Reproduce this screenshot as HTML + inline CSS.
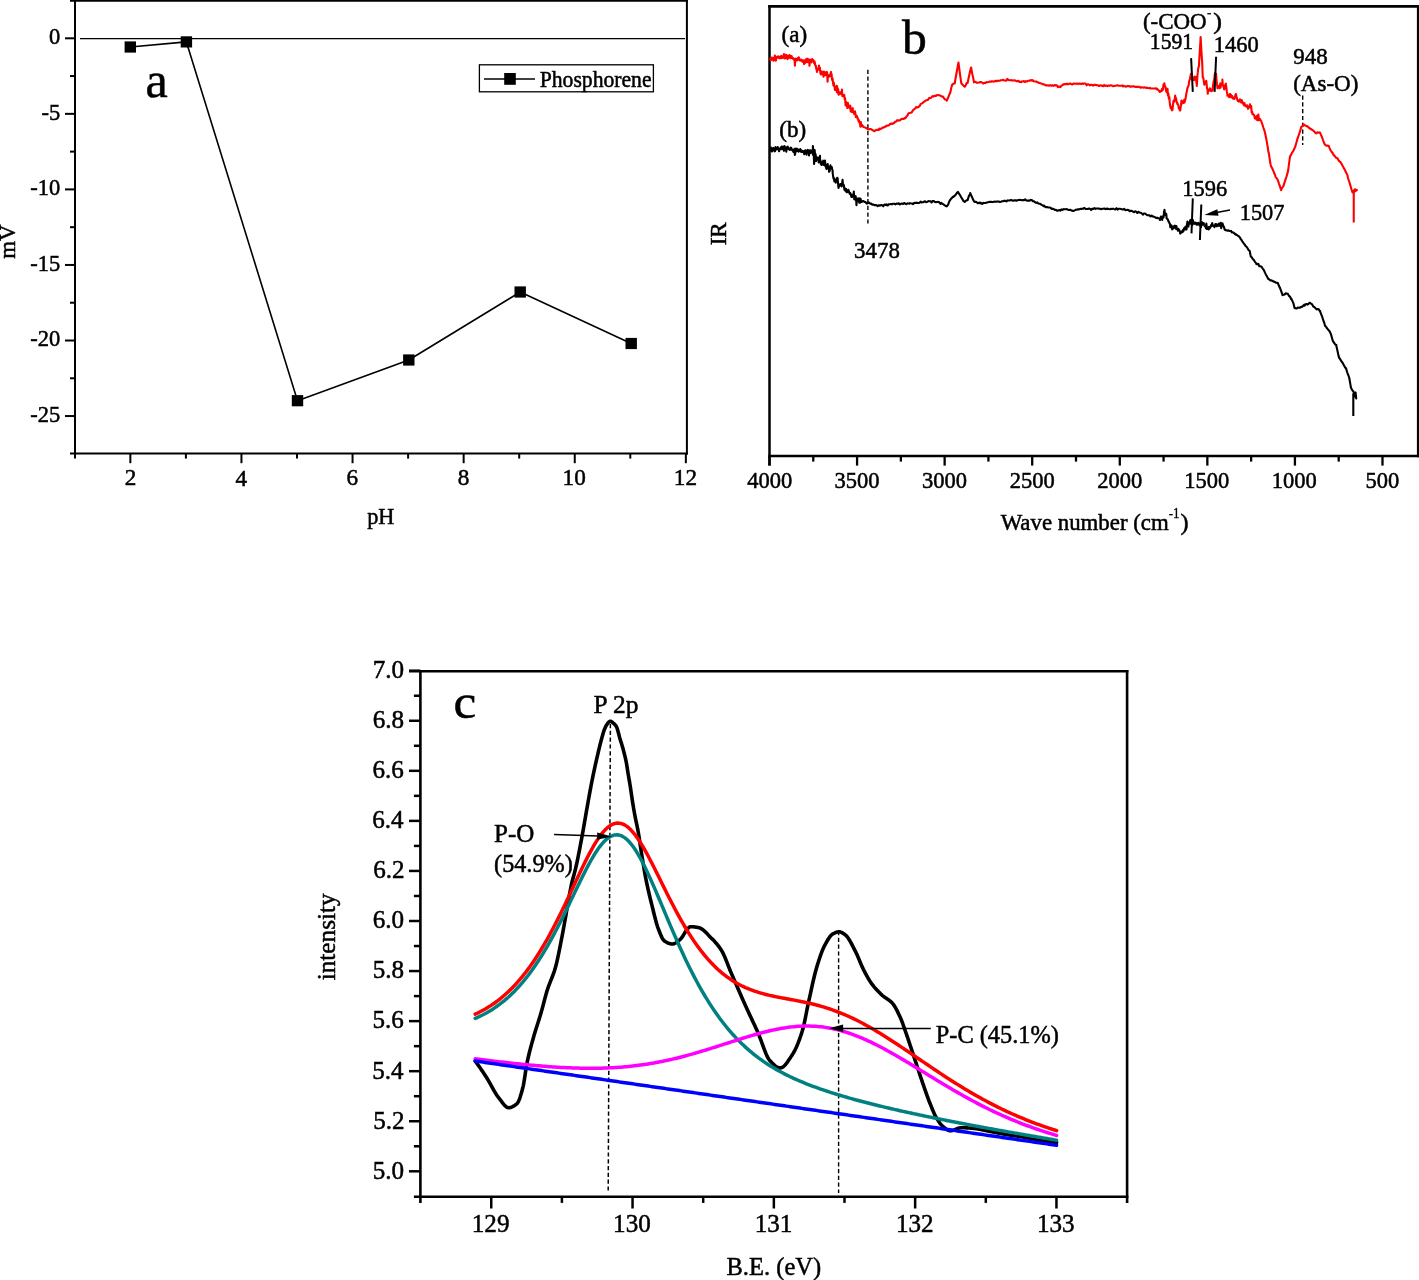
<!DOCTYPE html>
<html><head><meta charset="utf-8"><style>
html,body{margin:0;padding:0;background:#fff;}
svg{display:block;will-change:transform;}
text{font-family:"Liberation Serif", serif;fill:#000;}
</style></head><body>
<svg width="1419" height="1280" viewBox="0 0 1419 1280">
<rect width="1419" height="1280" fill="#fff"/>
<line x1="75.00" y1="0.00" x2="75.00" y2="458.60" stroke="#000" stroke-width="2" />
<line x1="70.00" y1="453.60" x2="687.90" y2="453.60" stroke="#000" stroke-width="2" />
<line x1="70.00" y1="0.70" x2="687.90" y2="0.70" stroke="#000" stroke-width="2" />
<line x1="686.90" y1="0.00" x2="686.90" y2="454.60" stroke="#000" stroke-width="2" />
<line x1="65.00" y1="38.30" x2="75.00" y2="38.30" stroke="#000" stroke-width="2" />
<text transform="translate(49.00,44.02) scale(0.9700,1)" font-size="23.20" stroke="#000" stroke-width="0.50">0</text>
<line x1="65.00" y1="113.85" x2="75.00" y2="113.85" stroke="#000" stroke-width="2" />
<text transform="translate(41.46,119.57) scale(0.9700,1)" font-size="23.20" stroke="#000" stroke-width="0.50">-5</text>
<line x1="65.00" y1="189.40" x2="75.00" y2="189.40" stroke="#000" stroke-width="2" />
<text transform="translate(30.21,195.12) scale(0.9700,1)" font-size="23.20" stroke="#000" stroke-width="0.50">-10</text>
<line x1="65.00" y1="264.95" x2="75.00" y2="264.95" stroke="#000" stroke-width="2" />
<text transform="translate(30.21,270.67) scale(0.9700,1)" font-size="23.20" stroke="#000" stroke-width="0.50">-15</text>
<line x1="65.00" y1="340.50" x2="75.00" y2="340.50" stroke="#000" stroke-width="2" />
<text transform="translate(30.21,346.22) scale(0.9700,1)" font-size="23.20" stroke="#000" stroke-width="0.50">-20</text>
<line x1="65.00" y1="416.05" x2="75.00" y2="416.05" stroke="#000" stroke-width="2" />
<text transform="translate(30.21,421.77) scale(0.9700,1)" font-size="23.20" stroke="#000" stroke-width="0.50">-25</text>
<line x1="70.00" y1="76.07" x2="75.00" y2="76.07" stroke="#000" stroke-width="2" />
<line x1="70.00" y1="151.62" x2="75.00" y2="151.62" stroke="#000" stroke-width="2" />
<line x1="70.00" y1="227.18" x2="75.00" y2="227.18" stroke="#000" stroke-width="2" />
<line x1="70.00" y1="302.73" x2="75.00" y2="302.73" stroke="#000" stroke-width="2" />
<line x1="70.00" y1="378.27" x2="75.00" y2="378.27" stroke="#000" stroke-width="2" />
<line x1="130.35" y1="453.60" x2="130.35" y2="463.20" stroke="#000" stroke-width="2" />
<text transform="translate(124.67,485.45) scale(1.0000,1)" font-size="23.20" stroke="#000" stroke-width="0.50">2</text>
<line x1="241.45" y1="453.60" x2="241.45" y2="463.20" stroke="#000" stroke-width="2" />
<text transform="translate(235.59,485.57) scale(1.0000,1)" font-size="23.20" stroke="#000" stroke-width="0.50">4</text>
<line x1="352.55" y1="453.60" x2="352.55" y2="463.20" stroke="#000" stroke-width="2" />
<text transform="translate(346.58,485.22) scale(1.0000,1)" font-size="23.20" stroke="#000" stroke-width="0.50">6</text>
<line x1="463.65" y1="453.60" x2="463.65" y2="463.20" stroke="#000" stroke-width="2" />
<text transform="translate(457.85,485.22) scale(1.0000,1)" font-size="23.20" stroke="#000" stroke-width="0.50">8</text>
<line x1="574.75" y1="453.60" x2="574.75" y2="463.20" stroke="#000" stroke-width="2" />
<text transform="translate(562.57,485.22) scale(1.0000,1)" font-size="23.20" stroke="#000" stroke-width="0.50">10</text>
<line x1="685.85" y1="453.60" x2="685.85" y2="463.20" stroke="#000" stroke-width="2" />
<text transform="translate(673.84,485.45) scale(1.0000,1)" font-size="23.20" stroke="#000" stroke-width="0.50">12</text>
<line x1="185.90" y1="453.60" x2="185.90" y2="458.60" stroke="#000" stroke-width="2" />
<line x1="297.00" y1="453.60" x2="297.00" y2="458.60" stroke="#000" stroke-width="2" />
<line x1="408.10" y1="453.60" x2="408.10" y2="458.60" stroke="#000" stroke-width="2" />
<line x1="519.20" y1="453.60" x2="519.20" y2="458.60" stroke="#000" stroke-width="2" />
<line x1="630.30" y1="453.60" x2="630.30" y2="458.60" stroke="#000" stroke-width="2" />
<text transform="translate(367.22,523.70) scale(0.9451,1)" font-size="23.58" stroke="#000" stroke-width="0.50">pH</text>
<text transform="translate(14.90,258.81) rotate(-90)" font-size="22.79" stroke="#000" stroke-width="0.50">mV</text>
<text transform="translate(145.40,97.15) scale(1.0089,1)" font-size="49.68" stroke="#000" stroke-width="0.50">a</text>
<line x1="80.00" y1="38.60" x2="685.00" y2="38.60" stroke="#000" stroke-width="1.4" />
<path d="M130.30,47.00 L186.40,41.90 L297.50,400.70 L408.80,360.00 L520.20,292.00 L631.20,343.50" fill="none" stroke="#000" stroke-width="1.6" stroke-linejoin="round" />
<rect x="124.60" y="41.40" width="11.4" height="11.2" fill="#000"/>
<rect x="180.70" y="36.30" width="11.4" height="11.2" fill="#000"/>
<rect x="291.80" y="395.10" width="11.4" height="11.2" fill="#000"/>
<rect x="403.10" y="354.40" width="11.4" height="11.2" fill="#000"/>
<rect x="514.50" y="286.40" width="11.4" height="11.2" fill="#000"/>
<rect x="625.50" y="337.90" width="11.4" height="11.2" fill="#000"/>
<rect x="479.4" y="64.8" width="174" height="27" fill="none" stroke="#000" stroke-width="1.3"/>
<line x1="484.00" y1="79.00" x2="535.00" y2="79.00" stroke="#000" stroke-width="1.4" />
<rect x="504.2" y="73.0" width="11.6" height="11.8" fill="#000"/>
<text transform="translate(539.70,86.50) scale(0.9561,1)" font-size="22.66" stroke="#000" stroke-width="0.50">Phosphorene</text>
<line x1="769.50" y1="5.10" x2="769.50" y2="465.60" stroke="#000" stroke-width="2.5" />
<line x1="768.25" y1="6.40" x2="1419.50" y2="6.40" stroke="#000" stroke-width="2.6" />
<line x1="1418.20" y1="5.10" x2="1418.20" y2="457.30" stroke="#000" stroke-width="2.6" />
<line x1="768.25" y1="456.00" x2="1419.50" y2="456.00" stroke="#000" stroke-width="2.5" />
<line x1="769.50" y1="456.00" x2="769.50" y2="465.60" stroke="#000" stroke-width="2.3" />
<text transform="translate(747.23,488.12) scale(1.0000,1)" font-size="22.50" stroke="#000" stroke-width="0.50">4000</text>
<line x1="857.07" y1="456.00" x2="857.07" y2="465.60" stroke="#000" stroke-width="2.3" />
<text transform="translate(834.46,488.12) scale(1.0000,1)" font-size="22.50" stroke="#000" stroke-width="0.50">3500</text>
<line x1="944.64" y1="456.00" x2="944.64" y2="465.60" stroke="#000" stroke-width="2.3" />
<text transform="translate(922.03,488.12) scale(1.0000,1)" font-size="22.50" stroke="#000" stroke-width="0.50">3000</text>
<line x1="1032.21" y1="456.00" x2="1032.21" y2="465.60" stroke="#000" stroke-width="2.3" />
<text transform="translate(1009.65,488.12) scale(1.0000,1)" font-size="22.50" stroke="#000" stroke-width="0.50">2500</text>
<line x1="1119.78" y1="456.00" x2="1119.78" y2="465.60" stroke="#000" stroke-width="2.3" />
<text transform="translate(1097.22,488.12) scale(1.0000,1)" font-size="22.50" stroke="#000" stroke-width="0.50">2000</text>
<line x1="1207.35" y1="456.00" x2="1207.35" y2="465.60" stroke="#000" stroke-width="2.3" />
<text transform="translate(1184.29,488.12) scale(1.0000,1)" font-size="22.50" stroke="#000" stroke-width="0.50">1500</text>
<line x1="1294.92" y1="456.00" x2="1294.92" y2="465.60" stroke="#000" stroke-width="2.3" />
<text transform="translate(1271.86,488.12) scale(1.0000,1)" font-size="22.50" stroke="#000" stroke-width="0.50">1000</text>
<line x1="1382.49" y1="456.00" x2="1382.49" y2="465.60" stroke="#000" stroke-width="2.3" />
<text transform="translate(1365.39,488.12) scale(1.0000,1)" font-size="22.50" stroke="#000" stroke-width="0.50">500</text>
<line x1="813.28" y1="456.00" x2="813.28" y2="461.60" stroke="#000" stroke-width="2.3" />
<line x1="900.86" y1="456.00" x2="900.86" y2="461.60" stroke="#000" stroke-width="2.3" />
<line x1="988.42" y1="456.00" x2="988.42" y2="461.60" stroke="#000" stroke-width="2.3" />
<line x1="1075.99" y1="456.00" x2="1075.99" y2="461.60" stroke="#000" stroke-width="2.3" />
<line x1="1163.57" y1="456.00" x2="1163.57" y2="461.60" stroke="#000" stroke-width="2.3" />
<line x1="1251.13" y1="456.00" x2="1251.13" y2="461.60" stroke="#000" stroke-width="2.3" />
<line x1="1338.70" y1="456.00" x2="1338.70" y2="461.60" stroke="#000" stroke-width="2.3" />
<text transform="translate(1000.65,529.81) scale(1.0129,1)" font-size="22.56" stroke="#000" stroke-width="0.50">Wave number (cm</text>
<text transform="translate(1168.69,517.65) scale(0.9199,1)" font-size="14.20" stroke="#000" stroke-width="0.30">-1</text>
<text transform="translate(1180.42,530.01) scale(1.0743,1)" font-size="22.56" stroke="#000" stroke-width="0.50">)</text>
<text transform="translate(725.65,245.36) rotate(-90)" font-size="23.11" stroke="#000" stroke-width="0.50">IR</text>
<text transform="translate(781.61,41.64) scale(1.0309,1)" font-size="22.44" stroke="#000" stroke-width="0.50">(a)</text>
<text transform="translate(779.31,136.88) scale(1.0253,1)" font-size="22.50" stroke="#000" stroke-width="0.50">(b)</text>
<text transform="translate(901.95,53.96) scale(1.0138,1)" font-size="49.00" stroke="#000" stroke-width="0.50">b</text>
<text transform="translate(854.11,258.22) scale(1.0028,1)" font-size="22.81" stroke="#000" stroke-width="0.50">3478</text>
<text transform="translate(1142.92,28.84) scale(1.0037,1)" font-size="22.89" stroke="#000" stroke-width="0.50">(-COO</text>
<text transform="translate(1213.27,28.94) scale(1.1653,1)" font-size="22.44" stroke="#000" stroke-width="0.50">)</text>
<rect x="1207.3" y="13.1" width="3.7" height="1.3" fill="#000"/>
<text transform="translate(1149.79,49.42) scale(0.9642,1)" font-size="22.54" stroke="#000" stroke-width="0.50">1591</text>
<text transform="translate(1213.82,52.13) scale(1.0131,1)" font-size="22.22" stroke="#000" stroke-width="0.50">1460</text>
<text transform="translate(1293.26,63.72) scale(0.9989,1)" font-size="22.96" stroke="#000" stroke-width="0.50">948</text>
<text transform="translate(1293.21,90.74) scale(1.0059,1)" font-size="22.89" stroke="#000" stroke-width="0.50">(As-O)</text>
<text transform="translate(1182.32,195.52) scale(0.9602,1)" font-size="23.43" stroke="#000" stroke-width="0.50">1596</text>
<text transform="translate(1239.73,219.62) scale(0.9628,1)" font-size="23.26" stroke="#000" stroke-width="0.50">1507</text>
<line x1="867.90" y1="69.80" x2="867.90" y2="224.50" stroke="#000" stroke-width="1.4" stroke-dasharray="4.2,2.6"/>
<line x1="1302.70" y1="95.50" x2="1302.70" y2="145.00" stroke="#000" stroke-width="1.4" stroke-dasharray="4.2,2.6"/>
<path d="M769.50,58.50 L769.95,58.75 L770.40,58.22 L770.85,60.19 L771.30,58.02 L771.75,57.52 L772.20,58.45 L772.65,59.58 L773.10,57.91 L773.55,60.77 L774.00,58.76 L774.45,58.62 L774.90,55.49 L775.35,57.43 L775.80,60.62 L776.25,58.85 L776.70,57.00 L777.15,57.78 L777.60,56.46 L778.05,56.99 L778.50,56.48 L778.95,57.91 L779.40,56.96 L779.85,58.33 L780.30,58.21 L780.75,57.88 L781.20,55.76 L781.65,57.53 L781.90,57.96 L782.10,58.06 L782.55,56.49 L783.00,57.35 L783.45,56.81 L783.90,54.16 L784.35,58.46 L784.80,56.69 L785.25,57.30 L785.70,58.04 L786.15,54.68 L786.60,56.96 L787.05,57.07 L787.50,59.13 L787.95,55.69 L788.40,56.77 L788.85,57.83 L789.30,55.13 L789.75,57.20 L790.20,56.45 L790.40,55.72 L790.65,58.28 L791.10,57.50 L791.55,56.06 L792.00,57.54 L792.45,58.32 L792.90,57.96 L793.35,59.07 L793.80,58.73 L794.25,59.72 L794.50,60.59 L794.70,61.79 L794.90,65.68 L795.15,61.40 L795.30,62.27 L795.60,58.49 L796.05,58.97 L796.50,59.25 L796.95,60.17 L797.40,60.33 L797.85,58.04 L798.30,58.46 L798.75,59.69 L798.80,57.31 L799.20,58.84 L799.65,59.34 L800.10,60.73 L800.55,60.40 L801.00,59.65 L801.45,59.79 L801.90,60.07 L802.35,61.84 L802.80,60.26 L803.25,60.54 L803.70,61.31 L804.15,64.07 L804.50,61.12 L804.60,60.30 L805.05,63.16 L805.50,60.90 L805.95,62.35 L806.40,58.74 L806.85,61.28 L807.30,61.90 L807.75,58.70 L808.20,62.25 L808.65,61.30 L809.10,61.83 L809.10,60.14 L809.50,65.81 L809.55,63.46 L809.90,59.47 L810.00,60.97 L810.45,60.20 L810.90,60.91 L811.35,62.55 L811.80,59.54 L812.25,59.11 L812.70,60.11 L812.90,60.44 L813.15,59.92 L813.60,60.75 L814.05,62.99 L814.50,63.59 L814.60,61.45 L814.95,64.04 L815.40,65.70 L815.85,65.55 L816.30,69.01 L816.75,68.82 L816.90,72.06 L817.20,70.59 L817.65,69.98 L818.10,68.51 L818.55,68.77 L819.00,65.50 L819.10,66.70 L819.45,69.95 L819.90,67.51 L820.35,73.27 L820.80,70.68 L820.80,74.44 L821.25,72.24 L821.70,71.86 L822.15,74.13 L822.60,71.84 L823.05,72.33 L823.50,76.73 L823.95,71.59 L824.20,74.49 L824.40,74.42 L824.85,72.67 L825.30,75.25 L825.75,72.26 L825.90,72.82 L826.20,72.01 L826.65,72.71 L827.10,72.18 L827.55,81.68 L828.00,74.77 L828.45,76.90 L828.90,75.92 L829.35,75.31 L829.80,76.31 L829.80,75.96 L830.25,75.16 L830.70,72.94 L831.00,71.95 L831.15,75.88 L831.60,74.04 L832.05,79.87 L832.50,78.52 L832.60,78.42 L832.95,81.91 L833.40,85.31 L833.85,82.82 L834.30,86.49 L834.75,87.65 L834.90,89.97 L835.20,89.90 L835.65,88.15 L836.10,87.69 L836.55,85.84 L836.90,92.24 L837.00,86.08 L837.45,88.45 L837.90,88.77 L838.30,90.18 L838.35,94.03 L838.80,94.71 L839.25,92.86 L839.70,92.57 L840.15,92.15 L840.60,92.25 L841.05,94.16 L841.50,92.96 L841.70,93.27 L841.95,89.46 L842.40,96.23 L842.85,96.11 L843.30,96.29 L843.75,95.49 L844.20,94.88 L844.65,99.00 L845.10,99.65 L845.10,97.99 L845.55,105.36 L846.00,101.91 L846.45,103.25 L846.90,104.65 L847.30,108.06 L847.35,106.69 L847.80,102.73 L848.25,106.06 L848.70,105.69 L849.15,106.43 L849.60,108.12 L849.60,107.53 L850.05,105.55 L850.50,106.69 L850.70,111.33 L850.95,108.73 L851.40,110.51 L851.85,112.06 L852.30,108.61 L852.75,108.18 L853.00,111.89 L853.20,111.99 L853.65,112.51 L854.10,113.89 L854.55,113.49 L854.70,112.83 L855.00,111.34 L855.45,113.92 L855.90,117.05 L856.35,116.46 L856.80,115.77 L856.90,116.51 L857.25,116.52 L857.50,118.51 L857.70,118.28 L858.15,119.09 L858.60,121.34 L859.05,120.51 L859.50,122.85 L859.95,123.46 L860.40,126.63 L860.85,122.14 L861.30,126.19 L861.40,124.87 L861.75,125.20 L862.20,125.08 L863.30,126.93 L864.40,127.16 L865.50,127.62 L866.60,128.38 L867.60,128.91 L867.70,129.38 L868.80,129.36 L869.90,129.04 L871.00,129.11 L872.10,129.79 L873.20,130.52 L873.80,130.74 L874.30,131.18 L875.40,130.52 L876.50,129.89 L877.60,129.68 L878.70,130.04 L879.50,128.51 L879.80,129.37 L880.90,128.79 L882.00,128.28 L883.10,127.25 L884.20,127.35 L885.30,126.71 L886.20,125.89 L886.40,126.27 L887.50,125.47 L888.60,125.56 L889.70,124.41 L890.80,123.51 L891.90,123.90 L891.90,123.50 L893.00,123.73 L894.10,122.97 L895.20,121.71 L896.30,121.39 L896.40,121.21 L897.40,120.06 L898.50,120.64 L899.60,120.26 L900.30,120.12 L900.70,119.47 L901.80,118.87 L902.00,118.75 L902.90,118.87 L904.00,118.86 L905.10,117.80 L905.40,118.16 L906.20,116.73 L907.30,115.68 L908.40,113.51 L909.50,113.07 L910.60,112.79 L911.70,112.59 L912.80,110.50 L913.30,109.83 L913.90,109.49 L915.00,108.66 L916.10,107.14 L917.20,107.37 L918.30,107.12 L919.40,106.14 L920.00,105.58 L920.50,104.15 L921.60,103.63 L922.70,103.08 L922.70,102.75 L923.80,101.98 L924.90,101.22 L926.00,100.35 L927.10,100.02 L928.20,99.66 L929.30,97.92 L930.40,98.05 L931.50,97.42 L932.50,96.11 L932.60,96.38 L933.70,96.38 L934.80,95.78 L935.90,95.89 L937.00,94.98 L938.10,94.97 L938.10,95.26 L939.20,95.18 L940.30,95.56 L941.40,96.27 L942.50,96.69 L943.00,96.60 L943.60,97.64 L944.70,99.20 L945.80,99.62 L946.80,100.64 L946.90,100.16 L948.00,98.06 L949.10,95.08 L950.00,93.07 L950.20,92.96 L951.30,87.75 L952.20,84.62 L952.40,84.65 L953.50,83.65 L954.60,83.12 L954.70,83.49 L955.70,77.47 L956.80,71.45 L957.90,65.32 L958.50,62.51 L959.00,66.71 L960.10,74.85 L961.20,82.56 L961.30,83.34 L962.30,84.33 L963.40,85.55 L964.50,86.37 L964.80,86.76 L965.60,85.70 L966.70,82.98 L967.60,82.89 L967.80,82.02 L968.90,76.77 L970.00,71.78 L970.90,67.96 L971.10,67.56 L972.20,73.62 L973.30,78.35 L974.00,82.32 L974.40,81.65 L975.50,81.89 L976.60,82.66 L977.70,82.70 L978.80,82.52 L979.90,82.14 L981.00,81.97 L982.10,82.62 L983.10,83.09 L983.20,83.56 L984.30,82.77 L985.40,82.96 L986.50,82.01 L987.60,82.17 L988.70,81.95 L989.80,81.49 L990.90,81.69 L992.00,81.14 L993.10,81.64 L994.20,81.45 L994.40,81.43 L995.30,80.90 L996.40,81.14 L997.50,80.88 L998.60,80.73 L999.70,80.68 L1000.80,80.33 L1001.90,80.22 L1003.00,79.82 L1004.10,80.47 L1005.20,80.52 L1006.30,80.69 L1007.40,78.84 L1008.50,80.03 L1009.60,80.25 L1010.70,80.25 L1011.20,79.99 L1011.80,80.51 L1012.90,80.46 L1014.00,80.22 L1015.10,80.49 L1016.20,81.20 L1017.30,81.29 L1018.40,80.77 L1019.50,81.93 L1020.60,81.89 L1021.10,82.20 L1021.70,81.61 L1022.80,81.50 L1023.90,81.11 L1025.00,82.07 L1026.10,81.12 L1027.20,81.51 L1028.30,80.71 L1029.40,80.81 L1030.50,80.12 L1031.60,80.37 L1032.30,80.70 L1032.70,80.17 L1033.80,81.29 L1034.90,81.48 L1036.00,81.48 L1037.10,82.05 L1038.20,82.48 L1039.30,83.02 L1040.40,83.28 L1041.50,83.61 L1042.60,84.18 L1043.70,84.38 L1044.80,84.71 L1045.90,85.50 L1046.40,85.23 L1047.00,85.22 L1048.10,85.63 L1049.20,85.39 L1050.30,85.25 L1051.40,85.75 L1052.50,85.30 L1053.60,85.86 L1054.70,85.13 L1055.80,85.43 L1056.20,85.23 L1056.90,85.37 L1058.00,87.06 L1059.10,86.50 L1060.20,87.20 L1060.40,87.09 L1061.30,85.91 L1062.40,85.14 L1063.30,84.32 L1063.50,84.58 L1064.60,83.99 L1065.70,84.22 L1066.80,83.69 L1067.90,84.37 L1069.00,83.82 L1070.10,83.57 L1071.20,84.07 L1072.30,84.39 L1073.40,83.57 L1074.50,83.67 L1075.60,83.74 L1076.70,83.59 L1077.80,84.02 L1078.90,83.63 L1080.00,83.63 L1081.10,83.99 L1082.20,83.56 L1083.30,83.88 L1083.40,83.46 L1084.40,83.52 L1085.50,83.48 L1086.60,85.33 L1087.70,84.22 L1088.80,84.53 L1089.90,85.37 L1091.00,84.80 L1092.10,84.91 L1093.20,85.61 L1094.30,84.87 L1095.40,84.86 L1096.50,85.17 L1097.60,85.22 L1098.70,85.98 L1099.00,86.05 L1099.80,85.51 L1100.90,85.38 L1102.00,85.69 L1103.10,86.22 L1104.20,84.95 L1105.30,85.96 L1106.40,85.48 L1107.50,86.11 L1108.60,85.48 L1109.70,85.71 L1110.80,85.35 L1111.90,85.51 L1113.00,86.22 L1114.10,86.05 L1115.20,85.68 L1116.30,85.54 L1117.40,85.23 L1118.50,85.68 L1119.60,85.79 L1120.70,85.77 L1121.80,85.77 L1122.50,85.46 L1122.90,86.48 L1124.00,85.89 L1125.10,86.37 L1126.20,86.62 L1127.30,86.10 L1128.40,85.99 L1129.50,86.27 L1130.60,86.85 L1131.70,86.23 L1132.80,86.51 L1133.90,86.29 L1135.00,86.86 L1136.10,86.73 L1137.20,86.91 L1138.10,86.85 L1138.30,86.71 L1139.40,86.78 L1140.50,87.78 L1141.60,87.18 L1142.70,87.55 L1143.80,87.62 L1144.90,87.35 L1146.00,87.92 L1147.10,87.63 L1148.20,87.99 L1149.30,88.22 L1150.00,87.78 L1150.40,88.44 L1151.50,88.51 L1152.60,88.46 L1153.70,88.43 L1154.80,88.49 L1155.90,88.36 L1157.00,89.37 L1157.00,88.53 L1158.10,89.98 L1159.20,90.85 L1159.80,91.97 L1160.30,91.67 L1160.75,91.08 L1161.20,90.49 L1161.65,91.06 L1162.10,88.74 L1162.55,90.32 L1162.70,90.02 L1163.00,88.93 L1163.45,84.67 L1163.90,84.69 L1164.35,83.35 L1164.40,83.97 L1164.80,85.42 L1165.25,87.05 L1165.70,87.33 L1165.80,89.58 L1166.15,91.03 L1166.60,92.02 L1167.05,92.46 L1167.50,88.85 L1167.95,95.37 L1168.30,95.27 L1168.40,93.67 L1168.85,98.76 L1169.30,96.91 L1169.70,101.93 L1169.75,102.66 L1170.20,105.51 L1170.65,108.04 L1171.10,106.89 L1171.55,109.36 L1172.00,110.37 L1172.45,109.98 L1172.50,109.98 L1172.90,105.47 L1173.35,101.92 L1173.60,100.68 L1173.80,100.42 L1174.25,101.69 L1174.70,99.91 L1175.15,95.63 L1175.60,97.92 L1176.00,98.16 L1176.05,98.28 L1176.50,100.96 L1176.95,102.61 L1177.40,104.22 L1177.40,103.02 L1177.85,104.63 L1178.30,105.08 L1178.75,108.11 L1179.20,108.56 L1179.65,109.92 L1180.10,109.14 L1180.20,110.57 L1180.55,108.06 L1181.00,104.87 L1181.45,100.66 L1181.60,103.92 L1181.90,102.58 L1182.35,102.22 L1182.80,101.45 L1183.25,102.08 L1183.70,102.89 L1184.15,99.83 L1184.50,102.29 L1184.60,102.39 L1185.05,100.26 L1185.50,98.93 L1185.95,96.17 L1186.40,93.18 L1186.60,92.17 L1186.85,91.60 L1187.30,88.59 L1187.75,87.22 L1188.20,86.26 L1188.65,85.39 L1189.10,81.67 L1189.40,80.56 L1189.55,80.10 L1190.00,79.11 L1190.45,75.85 L1190.80,75.62 L1190.90,73.70 L1191.35,78.64 L1191.80,76.79 L1192.25,78.87 L1192.70,77.66 L1192.90,78.54 L1193.15,78.76 L1193.60,79.33 L1194.05,80.16 L1194.50,76.53 L1194.95,78.27 L1195.40,77.22 L1195.70,76.84 L1195.85,77.13 L1196.30,81.96 L1196.75,84.30 L1196.80,85.89 L1197.20,79.00 L1197.65,73.34 L1197.80,72.38 L1198.10,69.30 L1198.55,67.13 L1199.00,65.90 L1199.20,60.77 L1199.45,57.40 L1199.90,49.33 L1200.35,42.79 L1200.60,37.13 L1200.80,40.22 L1201.25,48.26 L1201.70,55.74 L1202.00,59.90 L1202.15,61.93 L1202.60,73.38 L1202.70,77.08 L1203.05,77.38 L1203.50,78.91 L1203.95,82.19 L1204.40,84.80 L1204.50,84.15 L1204.85,82.72 L1205.30,82.01 L1205.75,83.00 L1206.20,80.82 L1206.30,81.17 L1206.65,84.49 L1207.10,88.71 L1207.55,89.79 L1207.70,93.75 L1208.00,91.80 L1208.45,91.22 L1208.90,89.58 L1209.35,90.47 L1209.80,88.38 L1209.80,90.09 L1210.25,88.83 L1210.70,89.70 L1211.15,91.28 L1211.60,89.96 L1211.90,90.97 L1212.05,90.65 L1212.50,90.56 L1212.95,86.42 L1213.40,82.75 L1213.85,80.77 L1214.30,79.27 L1214.70,74.79 L1214.75,74.65 L1215.20,72.77 L1215.65,74.97 L1216.10,74.90 L1216.10,73.84 L1216.55,80.34 L1217.00,84.45 L1217.45,87.73 L1217.50,88.32 L1217.90,85.48 L1218.35,87.42 L1218.80,86.23 L1219.25,86.34 L1219.70,88.27 L1220.15,84.74 L1220.30,83.38 L1220.60,87.37 L1221.05,83.70 L1221.50,83.75 L1221.95,83.18 L1222.40,83.09 L1222.40,79.50 L1222.85,85.57 L1223.30,85.77 L1223.75,87.61 L1224.20,89.47 L1224.50,88.42 L1224.65,86.32 L1225.10,85.75 L1225.55,84.09 L1225.90,83.65 L1226.00,84.93 L1226.45,88.62 L1226.90,91.94 L1227.35,93.66 L1227.40,95.67 L1227.80,95.30 L1228.25,95.12 L1228.70,95.33 L1229.15,97.28 L1229.60,94.85 L1230.05,93.89 L1230.50,95.37 L1230.90,97.06 L1230.95,94.80 L1231.40,97.09 L1231.85,96.99 L1232.30,96.19 L1232.75,98.55 L1233.20,97.65 L1233.65,98.09 L1234.10,98.34 L1234.40,98.98 L1234.55,98.06 L1235.00,97.02 L1235.45,94.77 L1235.80,94.36 L1235.90,94.06 L1236.35,96.29 L1236.80,97.49 L1237.25,99.53 L1237.70,101.04 L1237.90,100.00 L1238.15,100.69 L1238.60,101.49 L1239.05,100.70 L1239.50,100.35 L1239.95,101.42 L1240.00,99.39 L1240.40,100.47 L1240.85,100.38 L1241.30,102.64 L1241.75,99.99 L1242.20,101.60 L1242.65,102.17 L1243.10,103.70 L1243.55,104.10 L1244.00,105.26 L1244.45,103.03 L1244.90,105.58 L1245.35,105.09 L1245.80,105.20 L1246.25,106.74 L1246.70,105.87 L1247.15,105.28 L1247.50,107.17 L1247.60,106.08 L1248.05,108.83 L1248.50,107.07 L1248.95,106.68 L1249.40,107.48 L1249.85,105.53 L1250.00,104.22 L1250.30,106.10 L1250.75,107.73 L1251.20,106.13 L1251.65,112.50 L1251.90,112.52 L1252.10,111.48 L1252.55,114.24 L1253.00,113.86 L1253.45,114.64 L1253.90,114.77 L1254.35,115.59 L1254.80,118.31 L1255.25,116.84 L1255.70,118.63 L1256.15,116.79 L1256.60,119.71 L1257.05,115.84 L1257.50,117.35 L1257.50,120.15 L1257.95,118.14 L1258.40,114.61 L1258.85,120.32 L1259.30,119.39 L1259.75,118.66 L1260.20,119.69 L1261.25,121.17 L1261.30,121.37 L1262.40,124.48 L1263.50,128.03 L1264.60,131.11 L1265.00,132.67 L1265.70,135.95 L1266.80,141.92 L1267.90,148.00 L1268.10,150.17 L1269.00,154.30 L1270.10,161.61 L1270.60,164.75 L1271.20,166.60 L1272.30,168.52 L1273.40,171.22 L1274.50,173.85 L1275.00,174.71 L1275.60,176.87 L1276.70,178.28 L1277.80,180.02 L1278.10,180.82 L1278.90,183.35 L1280.00,186.57 L1281.10,190.24 L1281.25,189.47 L1282.20,187.64 L1283.30,186.36 L1284.40,182.82 L1285.00,181.23 L1285.50,179.37 L1286.60,176.28 L1287.70,172.37 L1288.10,170.90 L1288.80,165.48 L1289.90,157.47 L1290.00,156.32 L1291.00,154.89 L1292.10,152.53 L1293.20,151.08 L1294.30,148.74 L1294.40,148.70 L1295.40,146.27 L1296.50,142.21 L1297.50,138.60 L1297.60,138.42 L1298.70,135.25 L1299.80,132.21 L1300.90,128.40 L1301.25,126.98 L1302.00,126.49 L1303.10,125.21 L1303.75,124.43 L1304.20,125.06 L1305.30,125.41 L1306.40,126.21 L1307.50,126.29 L1308.60,127.53 L1309.70,128.55 L1310.00,128.33 L1310.80,128.88 L1311.90,129.82 L1313.00,130.33 L1314.10,131.43 L1315.00,132.47 L1315.20,132.64 L1316.30,133.43 L1317.40,132.37 L1318.50,132.59 L1319.60,132.42 L1320.00,132.54 L1320.70,134.21 L1321.80,136.66 L1322.90,139.74 L1324.00,142.76 L1325.00,144.71 L1325.10,144.96 L1326.20,145.60 L1327.30,145.45 L1328.40,146.19 L1328.75,145.93 L1329.50,147.90 L1330.60,150.18 L1331.70,152.02 L1332.80,153.27 L1333.75,155.22 L1333.90,155.19 L1335.00,156.28 L1336.10,157.81 L1337.20,158.05 L1338.30,159.87 L1339.40,161.38 L1340.00,161.67 L1340.50,162.18 L1341.60,163.85 L1342.70,166.06 L1343.80,168.12 L1344.90,169.84 L1345.00,170.15 L1346.00,172.51 L1347.10,174.33 L1348.20,178.80 L1348.75,180.21 L1349.30,181.88 L1350.40,185.52 L1351.50,189.48 L1352.50,192.36 L1352.60,192.14 L1353.70,190.64 L1354.80,189.41 L1355.00,189.27 L1355.90,189.70 L1356.90,190.00 L1353.75,192.00 L1353.75,222.50" fill="none" stroke="#ff0000" stroke-width="2.1" stroke-linejoin="round" />
<path d="M770.10,149.69 L770.55,150.39 L771.00,147.64 L771.45,150.40 L771.90,151.47 L772.35,150.46 L772.80,148.85 L773.25,147.84 L773.70,149.77 L774.15,150.22 L774.60,151.34 L775.05,151.07 L775.50,147.13 L775.95,149.44 L776.30,149.23 L776.40,149.41 L776.85,148.80 L777.30,149.17 L777.75,147.00 L778.20,149.32 L778.65,149.01 L779.10,151.22 L779.55,149.46 L780.00,148.22 L780.45,149.03 L780.90,147.29 L781.35,147.73 L781.80,146.46 L782.25,149.31 L782.70,148.42 L783.00,146.74 L783.15,147.76 L783.60,148.70 L784.05,150.83 L784.50,146.04 L784.95,147.19 L785.40,147.42 L785.85,148.12 L786.30,151.71 L786.75,147.36 L787.20,147.13 L787.65,146.60 L788.10,147.38 L788.55,149.22 L789.00,148.51 L789.45,149.12 L789.90,149.93 L790.35,149.02 L790.40,149.10 L790.80,147.66 L791.25,147.96 L791.70,149.26 L792.15,150.16 L792.60,150.14 L793.05,151.07 L793.50,152.02 L793.95,149.36 L794.40,152.65 L794.50,149.32 L794.85,154.93 L794.90,154.86 L795.30,153.12 L795.30,148.64 L795.75,150.23 L796.20,148.67 L796.60,151.09 L796.65,149.19 L797.10,151.00 L797.55,148.93 L798.00,150.09 L798.45,151.68 L798.90,150.02 L799.35,150.93 L799.80,150.56 L800.25,149.04 L800.70,151.52 L801.15,151.76 L801.60,150.50 L802.05,152.13 L802.50,151.03 L802.95,150.97 L803.40,152.00 L803.85,151.51 L804.30,154.31 L804.50,150.90 L804.75,150.67 L805.20,153.05 L805.65,150.29 L806.10,150.43 L806.55,154.62 L807.00,151.38 L807.45,152.07 L807.90,149.93 L808.35,151.21 L808.60,150.54 L808.80,150.89 L809.00,155.38 L809.25,152.05 L809.40,151.78 L809.70,151.68 L810.15,150.19 L810.60,152.95 L811.05,152.33 L811.50,152.08 L811.95,150.22 L812.40,150.63 L812.85,154.66 L812.90,146.04 L813.30,150.11 L813.70,153.05 L813.75,154.13 L814.10,164.05 L814.20,160.74 L814.50,157.44 L814.60,154.28 L814.65,150.10 L815.10,155.09 L815.55,154.24 L815.70,154.81 L816.00,161.14 L816.45,158.11 L816.90,157.48 L817.35,159.46 L817.80,157.78 L818.25,157.54 L818.70,162.46 L819.15,159.25 L819.60,157.61 L820.00,155.89 L820.05,159.64 L820.50,160.41 L820.80,163.84 L820.95,163.82 L821.40,164.93 L821.85,164.57 L822.30,162.01 L822.75,162.49 L823.20,160.68 L823.60,165.02 L823.65,163.21 L824.10,165.02 L824.55,162.83 L825.00,160.62 L825.45,166.38 L825.90,164.60 L826.35,168.96 L826.80,165.31 L827.00,166.37 L827.25,166.53 L827.70,163.94 L828.15,168.55 L828.60,166.72 L829.05,171.79 L829.50,171.29 L829.80,170.48 L829.95,168.34 L830.40,165.29 L830.85,167.54 L831.20,167.51 L831.30,166.97 L831.75,166.99 L832.20,169.44 L832.60,170.32 L832.65,172.78 L833.10,175.96 L833.55,178.54 L834.00,178.18 L834.30,181.15 L834.45,181.50 L834.90,179.52 L835.35,179.67 L835.80,182.69 L836.25,179.43 L836.70,180.06 L837.15,177.69 L837.20,178.36 L837.60,178.06 L838.05,183.21 L838.30,186.49 L838.50,187.87 L838.95,186.55 L839.40,185.83 L839.85,184.92 L840.30,183.98 L840.75,184.68 L841.20,185.88 L841.65,183.82 L841.70,186.40 L842.10,183.96 L842.55,179.80 L843.00,184.90 L843.45,184.41 L843.90,185.34 L844.35,189.59 L844.80,188.08 L845.00,188.93 L845.25,190.58 L845.70,191.16 L846.15,188.94 L846.60,192.12 L847.05,191.13 L847.50,190.99 L847.95,192.07 L848.40,189.70 L848.85,191.09 L849.30,192.54 L849.75,194.04 L850.20,193.00 L850.65,193.79 L851.10,195.87 L851.40,196.82 L851.55,195.96 L852.00,197.02 L852.45,194.83 L852.90,195.29 L853.35,196.54 L853.80,191.54 L854.25,199.10 L854.70,199.49 L855.15,197.02 L855.60,196.19 L856.05,198.69 L856.50,205.15 L856.95,198.71 L857.40,200.75 L857.85,198.56 L858.30,198.79 L858.40,198.57 L858.75,199.52 L859.20,202.66 L859.65,198.34 L860.10,202.70 L860.55,198.91 L861.00,200.24 L861.45,202.01 L861.90,201.88 L862.35,201.19 L863.45,201.03 L864.55,202.05 L865.65,202.05 L866.75,203.55 L867.60,203.04 L867.85,203.22 L868.95,202.35 L870.05,203.61 L871.15,203.66 L872.25,204.63 L873.35,204.55 L874.45,205.10 L875.55,205.01 L876.65,205.36 L877.75,206.19 L878.10,205.61 L878.85,205.23 L879.95,205.71 L881.05,205.07 L882.15,205.09 L883.25,206.30 L884.35,204.61 L885.45,204.94 L886.50,204.30 L886.55,204.94 L887.65,205.44 L888.75,204.25 L889.85,204.27 L890.95,204.03 L892.05,204.28 L893.15,203.69 L894.25,203.68 L895.35,204.34 L896.45,203.61 L897.55,203.69 L898.65,203.36 L899.75,204.47 L900.60,203.82 L900.85,203.86 L901.95,203.54 L903.05,204.02 L904.15,203.02 L905.25,203.61 L906.35,204.22 L907.45,203.39 L908.55,203.47 L909.65,203.62 L910.00,203.16 L910.75,203.33 L911.85,203.50 L912.95,204.10 L914.05,203.11 L915.15,202.78 L916.25,202.87 L917.35,202.68 L918.45,202.99 L919.55,202.66 L920.00,202.33 L920.65,201.59 L921.75,202.42 L922.85,202.31 L923.95,201.68 L925.05,201.23 L926.15,202.25 L927.25,201.87 L928.35,201.15 L929.45,201.20 L930.55,201.28 L931.65,202.46 L932.50,200.99 L932.75,201.03 L933.85,201.15 L934.95,202.05 L936.05,202.14 L937.15,202.04 L938.25,201.91 L939.35,202.34 L940.45,203.91 L941.55,202.87 L941.60,203.37 L942.65,203.92 L943.75,204.63 L944.85,205.48 L945.95,206.18 L946.80,206.34 L947.05,206.02 L948.15,204.70 L949.25,201.52 L950.35,199.62 L950.80,199.22 L951.45,198.36 L952.55,197.34 L953.60,196.40 L953.65,196.90 L954.75,195.74 L955.85,194.54 L956.95,192.83 L957.80,192.11 L958.05,191.88 L959.15,193.97 L960.25,195.45 L961.35,197.43 L962.45,199.33 L963.55,201.16 L964.10,201.40 L964.65,201.86 L965.75,200.90 L966.85,200.29 L967.60,200.25 L967.95,198.88 L969.05,195.63 L970.15,194.19 L970.20,192.94 L971.25,195.56 L972.35,197.83 L973.45,200.44 L974.00,201.27 L974.55,201.84 L975.65,201.81 L976.75,202.18 L977.85,203.42 L978.95,202.86 L980.05,202.55 L980.30,203.40 L981.15,202.93 L982.25,203.87 L983.35,202.91 L984.45,202.96 L985.55,202.97 L986.65,202.62 L987.75,202.35 L988.85,201.94 L989.95,201.86 L991.05,201.89 L992.15,202.00 L993.25,201.88 L994.35,201.71 L994.40,201.65 L995.45,201.80 L996.55,201.59 L997.65,201.53 L998.75,201.44 L999.85,201.93 L1000.95,201.67 L1002.05,201.23 L1003.15,201.12 L1004.25,200.84 L1005.35,200.69 L1006.45,201.41 L1007.55,200.41 L1008.65,200.48 L1009.75,200.54 L1010.85,200.02 L1011.95,200.31 L1013.05,200.73 L1014.15,200.38 L1015.25,200.20 L1015.40,200.18 L1016.35,200.77 L1017.45,200.29 L1018.55,199.95 L1019.65,199.87 L1020.75,200.03 L1021.85,200.27 L1022.95,200.10 L1024.05,200.20 L1025.15,199.39 L1026.25,200.36 L1027.35,200.70 L1028.45,200.40 L1029.55,200.73 L1030.65,199.75 L1030.90,200.08 L1031.75,200.10 L1032.85,201.12 L1033.95,201.26 L1035.05,202.22 L1036.15,202.85 L1037.25,202.34 L1038.35,203.55 L1039.45,203.76 L1040.55,204.06 L1041.65,204.81 L1042.75,205.44 L1043.60,206.21 L1043.85,205.52 L1044.95,206.61 L1046.05,207.22 L1047.15,207.11 L1048.25,207.42 L1049.35,207.57 L1050.45,207.55 L1051.55,208.98 L1052.65,208.65 L1053.75,209.08 L1054.85,209.95 L1055.95,209.72 L1057.05,210.74 L1058.15,210.61 L1059.25,210.06 L1060.35,210.44 L1060.40,210.69 L1061.45,209.28 L1062.55,209.98 L1063.65,209.16 L1064.70,209.27 L1064.75,209.22 L1065.85,209.25 L1066.95,209.17 L1068.05,209.73 L1069.15,210.05 L1070.25,209.75 L1071.35,210.43 L1072.45,210.80 L1072.50,210.66 L1073.55,210.86 L1074.65,210.53 L1075.75,209.70 L1076.85,209.76 L1077.95,209.25 L1079.05,209.45 L1080.15,208.80 L1081.25,209.11 L1082.35,208.73 L1083.40,208.69 L1083.45,208.36 L1084.55,207.98 L1085.65,208.96 L1086.75,209.06 L1087.85,208.88 L1088.95,208.61 L1090.05,208.70 L1091.15,210.03 L1092.25,208.63 L1093.35,208.97 L1094.45,208.12 L1095.55,208.84 L1096.65,208.52 L1097.75,208.57 L1098.85,208.63 L1099.95,208.75 L1101.05,209.16 L1102.15,208.81 L1103.25,208.71 L1104.35,208.50 L1105.45,209.08 L1106.55,208.62 L1106.90,208.89 L1107.65,208.67 L1108.75,209.04 L1109.85,209.20 L1110.95,208.83 L1112.05,209.01 L1113.15,208.62 L1114.25,209.19 L1115.35,209.41 L1116.45,208.19 L1117.55,209.60 L1118.65,208.69 L1119.75,208.81 L1120.85,209.00 L1121.95,209.33 L1122.50,209.51 L1123.05,209.56 L1124.15,208.76 L1125.25,210.14 L1126.35,209.95 L1127.45,209.88 L1128.55,210.06 L1129.65,211.23 L1130.75,210.76 L1131.85,210.89 L1132.95,211.55 L1134.05,212.21 L1135.15,211.20 L1136.25,211.62 L1137.35,213.00 L1138.10,212.26 L1138.45,211.74 L1139.55,212.56 L1140.65,212.74 L1141.75,213.33 L1142.85,214.70 L1143.95,213.55 L1145.05,213.55 L1146.15,214.44 L1147.25,215.18 L1148.35,215.18 L1149.45,215.38 L1150.55,216.36 L1151.65,215.66 L1152.75,216.57 L1153.75,216.43 L1153.85,216.66 L1154.95,217.13 L1156.05,218.01 L1157.15,217.73 L1158.25,218.31 L1159.35,218.45 L1160.00,220.00 L1160.45,218.68 L1160.90,216.48 L1161.35,217.95 L1161.80,218.61 L1162.25,219.95 L1162.30,216.50 L1162.70,218.14 L1163.15,216.47 L1163.60,217.20 L1164.05,211.26 L1164.40,212.59 L1164.50,209.79 L1164.95,213.93 L1165.40,215.01 L1165.85,213.50 L1166.30,214.12 L1166.60,218.37 L1166.75,218.35 L1167.20,218.81 L1167.65,219.14 L1168.10,220.24 L1168.55,221.80 L1169.00,221.67 L1169.40,223.20 L1169.45,223.02 L1169.90,223.84 L1170.35,227.30 L1170.80,226.37 L1171.25,225.32 L1171.70,226.28 L1172.00,226.29 L1172.15,229.41 L1172.60,228.17 L1173.05,226.89 L1173.50,228.40 L1173.95,226.33 L1174.40,226.93 L1174.85,225.65 L1175.30,225.90 L1175.75,228.63 L1176.20,228.66 L1176.40,226.08 L1176.65,229.16 L1177.10,229.32 L1177.55,228.63 L1178.00,230.70 L1178.45,228.89 L1178.90,229.86 L1179.35,230.18 L1179.80,231.06 L1180.25,233.60 L1180.70,231.94 L1180.80,232.25 L1181.15,231.98 L1181.60,232.53 L1182.05,231.39 L1182.50,232.00 L1182.95,229.82 L1183.40,231.40 L1183.85,228.83 L1184.10,229.03 L1184.30,227.81 L1184.75,228.46 L1185.20,229.43 L1185.65,226.47 L1186.10,226.52 L1186.55,229.52 L1187.00,224.70 L1187.45,221.46 L1187.90,223.12 L1188.35,224.05 L1188.40,226.59 L1188.80,223.04 L1189.25,222.78 L1189.70,223.56 L1190.15,220.37 L1190.60,219.98 L1190.60,223.82 L1191.05,221.71 L1191.50,222.55 L1191.95,221.83 L1192.40,224.93 L1192.85,219.96 L1193.30,223.56 L1193.75,222.92 L1194.20,222.58 L1194.65,223.86 L1195.00,222.54 L1195.10,223.16 L1195.55,222.73 L1196.00,222.75 L1196.45,224.63 L1196.90,223.58 L1197.35,224.60 L1197.80,223.15 L1198.25,224.47 L1198.70,222.80 L1199.15,224.12 L1199.40,224.16 L1199.60,225.19 L1200.05,224.67 L1200.50,224.20 L1200.95,227.29 L1201.40,224.34 L1201.85,221.92 L1202.30,224.68 L1202.75,223.73 L1203.20,223.39 L1203.65,223.90 L1203.70,223.14 L1204.10,224.48 L1204.55,225.80 L1205.00,226.14 L1205.45,225.51 L1205.90,228.27 L1206.35,223.63 L1206.80,227.56 L1207.00,229.06 L1207.25,227.45 L1207.70,227.40 L1208.15,228.11 L1208.60,229.51 L1209.05,226.77 L1209.50,228.41 L1209.95,227.97 L1210.40,226.88 L1210.85,226.30 L1211.30,224.84 L1211.40,226.31 L1211.75,225.81 L1212.20,223.14 L1212.65,225.24 L1213.10,225.74 L1213.55,225.57 L1214.00,226.07 L1214.45,227.18 L1214.90,226.11 L1215.35,224.10 L1215.80,224.78 L1216.25,224.17 L1216.70,224.96 L1216.90,226.31 L1217.15,226.05 L1217.60,224.87 L1218.05,225.55 L1218.50,224.34 L1218.95,223.50 L1219.40,225.84 L1219.85,223.69 L1220.30,225.78 L1220.75,222.85 L1221.20,228.09 L1221.65,225.14 L1222.10,223.45 L1222.30,223.50 L1222.55,223.44 L1223.00,224.93 L1223.45,226.51 L1223.90,226.76 L1224.35,228.64 L1224.80,229.73 L1225.25,229.59 L1225.60,230.28 L1226.35,230.30 L1227.45,230.62 L1228.55,230.39 L1229.65,231.04 L1230.75,231.18 L1231.10,230.93 L1231.85,232.39 L1232.95,232.28 L1234.05,233.14 L1235.15,234.31 L1235.50,233.90 L1236.25,234.74 L1237.35,235.23 L1238.45,236.12 L1239.55,237.08 L1239.80,237.38 L1240.65,238.88 L1241.75,240.43 L1242.85,242.19 L1243.95,243.65 L1245.05,244.97 L1245.30,245.82 L1246.15,246.38 L1247.25,247.69 L1248.35,249.68 L1249.45,250.81 L1249.70,250.95 L1250.55,255.36 L1250.80,256.65 L1251.65,257.09 L1252.75,258.92 L1253.85,260.04 L1254.95,261.88 L1256.05,263.09 L1256.20,263.89 L1257.15,264.21 L1258.25,263.78 L1259.35,266.27 L1260.45,266.32 L1261.55,266.71 L1261.70,266.95 L1262.65,268.59 L1263.75,269.93 L1264.85,272.41 L1265.95,274.66 L1267.05,276.60 L1268.15,278.86 L1268.30,278.40 L1269.25,279.42 L1270.35,280.38 L1271.45,280.42 L1272.55,281.03 L1273.65,281.66 L1274.75,281.83 L1275.85,282.61 L1276.95,282.76 L1278.05,283.23 L1278.10,283.85 L1279.15,286.29 L1280.25,288.57 L1281.35,291.55 L1282.45,294.56 L1282.50,295.15 L1283.55,294.73 L1284.65,294.38 L1285.75,293.33 L1286.85,293.57 L1286.90,293.73 L1287.95,293.88 L1289.05,295.91 L1290.15,296.84 L1291.20,299.26 L1291.25,298.55 L1292.35,300.86 L1293.45,303.37 L1294.55,308.07 L1295.20,307.92 L1295.65,308.39 L1296.75,308.49 L1297.85,307.52 L1298.95,307.77 L1299.90,307.48 L1300.05,307.64 L1301.15,306.88 L1302.25,306.67 L1303.35,305.56 L1304.45,304.68 L1304.60,305.81 L1305.55,304.31 L1306.65,304.06 L1307.75,304.61 L1308.85,303.47 L1309.95,302.73 L1310.50,303.40 L1311.05,303.62 L1312.15,304.40 L1313.25,306.45 L1314.35,307.00 L1315.20,307.92 L1315.45,308.10 L1316.55,309.41 L1317.65,309.01 L1318.75,309.27 L1319.85,311.18 L1319.90,310.70 L1320.95,313.78 L1322.05,316.32 L1323.15,319.98 L1324.25,322.84 L1325.10,325.91 L1325.35,325.95 L1326.45,327.50 L1327.55,328.94 L1328.65,330.26 L1329.75,331.46 L1330.40,332.96 L1330.85,333.90 L1331.95,337.72 L1332.80,340.89 L1333.05,341.10 L1334.15,342.84 L1335.25,344.51 L1336.30,344.90 L1336.35,345.86 L1337.45,350.70 L1338.55,355.85 L1339.20,357.93 L1339.65,358.43 L1340.75,360.13 L1341.85,362.05 L1342.10,362.08 L1342.95,363.42 L1344.05,365.59 L1345.15,367.62 L1346.20,368.38 L1346.25,369.20 L1347.35,372.81 L1348.45,375.49 L1349.20,377.72 L1349.55,379.50 L1350.65,385.89 L1350.90,387.54 L1351.75,389.34 L1352.85,391.01 L1353.30,391.16 L1353.95,392.87 L1355.05,396.44 L1356.15,397.74 L1356.20,398.40 L1355.60,392.50 L1353.30,394.00 L1353.30,416.00" fill="none" stroke="#000" stroke-width="2.1" stroke-linejoin="round" />
<line x1="1191.10" y1="58.10" x2="1192.80" y2="91.90" stroke="#000" stroke-width="2.0" />
<line x1="1216.10" y1="56.70" x2="1214.60" y2="91.90" stroke="#000" stroke-width="2.0" />
<line x1="1192.80" y1="198.40" x2="1191.50" y2="233.40" stroke="#000" stroke-width="2.0" />
<line x1="1201.30" y1="204.50" x2="1199.90" y2="240.00" stroke="#000" stroke-width="2.0" />
<line x1="1230.00" y1="209.90" x2="1214.00" y2="213.10" stroke="#000" stroke-width="1.5" />
<path d="M1204.3,215 L1217.3,209.3 L1218.5,215.8 Z" fill="#000"/>
<line x1="420.40" y1="669.90" x2="420.40" y2="1203.00" stroke="#000" stroke-width="2.6" />
<line x1="409.00" y1="671.20" x2="1128.40" y2="671.20" stroke="#000" stroke-width="2.6" />
<line x1="1127.10" y1="669.90" x2="1127.10" y2="1203.00" stroke="#000" stroke-width="2.6" />
<line x1="413.90" y1="1196.80" x2="1128.40" y2="1196.80" stroke="#000" stroke-width="2.6" />
<line x1="409.00" y1="1171.30" x2="420.40" y2="1171.30" stroke="#000" stroke-width="2.5" />
<text transform="translate(372.78,1178.67) scale(1.0000,1)" font-size="25.10" stroke="#000" stroke-width="0.50">5.0</text>
<line x1="409.00" y1="1121.24" x2="420.40" y2="1121.24" stroke="#000" stroke-width="2.5" />
<text transform="translate(373.16,1128.61) scale(1.0000,1)" font-size="25.10" stroke="#000" stroke-width="0.50">5.2</text>
<line x1="409.00" y1="1071.18" x2="420.40" y2="1071.18" stroke="#000" stroke-width="2.5" />
<text transform="translate(372.15,1078.55) scale(1.0000,1)" font-size="25.10" stroke="#000" stroke-width="0.50">5.4</text>
<line x1="409.00" y1="1021.12" x2="420.40" y2="1021.12" stroke="#000" stroke-width="2.5" />
<text transform="translate(372.53,1028.49) scale(1.0000,1)" font-size="25.10" stroke="#000" stroke-width="0.50">5.6</text>
<line x1="409.00" y1="971.06" x2="420.40" y2="971.06" stroke="#000" stroke-width="2.5" />
<text transform="translate(372.78,978.43) scale(1.0000,1)" font-size="25.10" stroke="#000" stroke-width="0.50">5.8</text>
<line x1="409.00" y1="921.00" x2="420.40" y2="921.00" stroke="#000" stroke-width="2.5" />
<text transform="translate(372.78,928.37) scale(1.0000,1)" font-size="25.10" stroke="#000" stroke-width="0.50">6.0</text>
<line x1="409.00" y1="870.94" x2="420.40" y2="870.94" stroke="#000" stroke-width="2.5" />
<text transform="translate(373.16,878.31) scale(1.0000,1)" font-size="25.10" stroke="#000" stroke-width="0.50">6.2</text>
<line x1="409.00" y1="820.88" x2="420.40" y2="820.88" stroke="#000" stroke-width="2.5" />
<text transform="translate(372.15,828.25) scale(1.0000,1)" font-size="25.10" stroke="#000" stroke-width="0.50">6.4</text>
<line x1="409.00" y1="770.82" x2="420.40" y2="770.82" stroke="#000" stroke-width="2.5" />
<text transform="translate(372.53,778.19) scale(1.0000,1)" font-size="25.10" stroke="#000" stroke-width="0.50">6.6</text>
<line x1="409.00" y1="720.76" x2="420.40" y2="720.76" stroke="#000" stroke-width="2.5" />
<text transform="translate(372.78,728.13) scale(1.0000,1)" font-size="25.10" stroke="#000" stroke-width="0.50">6.8</text>
<line x1="409.00" y1="670.70" x2="420.40" y2="670.70" stroke="#000" stroke-width="2.5" />
<text transform="translate(372.78,678.07) scale(1.0000,1)" font-size="25.10" stroke="#000" stroke-width="0.50">7.0</text>
<line x1="413.90" y1="1146.27" x2="420.40" y2="1146.27" stroke="#000" stroke-width="2.5" />
<line x1="413.90" y1="1096.21" x2="420.40" y2="1096.21" stroke="#000" stroke-width="2.5" />
<line x1="413.90" y1="1046.15" x2="420.40" y2="1046.15" stroke="#000" stroke-width="2.5" />
<line x1="413.90" y1="996.09" x2="420.40" y2="996.09" stroke="#000" stroke-width="2.5" />
<line x1="413.90" y1="946.03" x2="420.40" y2="946.03" stroke="#000" stroke-width="2.5" />
<line x1="413.90" y1="895.97" x2="420.40" y2="895.97" stroke="#000" stroke-width="2.5" />
<line x1="413.90" y1="845.91" x2="420.40" y2="845.91" stroke="#000" stroke-width="2.5" />
<line x1="413.90" y1="795.85" x2="420.40" y2="795.85" stroke="#000" stroke-width="2.5" />
<line x1="413.90" y1="745.79" x2="420.40" y2="745.79" stroke="#000" stroke-width="2.5" />
<line x1="413.90" y1="695.73" x2="420.40" y2="695.73" stroke="#000" stroke-width="2.5" />
<line x1="491.25" y1="1196.80" x2="491.25" y2="1208.50" stroke="#000" stroke-width="2.5" />
<text transform="translate(471.80,1231.70) scale(1.0000,1)" font-size="25.10" stroke="#000" stroke-width="0.50">129</text>
<line x1="632.55" y1="1196.80" x2="632.55" y2="1208.50" stroke="#000" stroke-width="2.5" />
<text transform="translate(613.10,1231.70) scale(1.0000,1)" font-size="25.10" stroke="#000" stroke-width="0.50">130</text>
<line x1="773.85" y1="1196.80" x2="773.85" y2="1208.50" stroke="#000" stroke-width="2.5" />
<text transform="translate(754.65,1231.70) scale(1.0000,1)" font-size="25.10" stroke="#000" stroke-width="0.50">131</text>
<line x1="915.15" y1="1196.80" x2="915.15" y2="1208.50" stroke="#000" stroke-width="2.5" />
<text transform="translate(895.89,1231.70) scale(1.0000,1)" font-size="25.10" stroke="#000" stroke-width="0.50">132</text>
<line x1="1056.45" y1="1196.80" x2="1056.45" y2="1208.50" stroke="#000" stroke-width="2.5" />
<text transform="translate(1037.00,1231.70) scale(1.0000,1)" font-size="25.10" stroke="#000" stroke-width="0.50">133</text>
<line x1="561.90" y1="1196.80" x2="561.90" y2="1202.90" stroke="#000" stroke-width="2.5" />
<line x1="703.20" y1="1196.80" x2="703.20" y2="1202.90" stroke="#000" stroke-width="2.5" />
<line x1="844.50" y1="1196.80" x2="844.50" y2="1202.90" stroke="#000" stroke-width="2.5" />
<line x1="985.80" y1="1196.80" x2="985.80" y2="1202.90" stroke="#000" stroke-width="2.5" />
<text transform="translate(726.51,1274.80) scale(0.9773,1)" font-size="25.11" stroke="#000" stroke-width="0.50">B.E. (eV)</text>
<text transform="translate(334.90,980.36) rotate(-90)" font-size="25.26" stroke="#000" stroke-width="0.50">intensity</text>
<text transform="translate(453.50,717.87) scale(1.0639,1)" font-size="48.13" stroke="#000" stroke-width="0.50">c</text>
<text transform="translate(593.59,713.12) scale(1.0004,1)" font-size="25.40" stroke="#000" stroke-width="0.50">P 2p</text>
<text transform="translate(494.00,841.59) scale(0.9651,1)" font-size="25.97" stroke="#000" stroke-width="0.50">P-O</text>
<text transform="translate(494.06,872.22) scale(0.9739,1)" font-size="24.89" stroke="#000" stroke-width="0.50">(54.9%)</text>
<text transform="translate(935.77,1043.33) scale(0.9901,1)" font-size="24.61" stroke="#000" stroke-width="0.50">P-C (45.1%)</text>
<line x1="610.40" y1="724.00" x2="608.20" y2="1192.00" stroke="#000" stroke-width="1.5" stroke-dasharray="4.2,2.6"/>
<line x1="838.60" y1="931.00" x2="838.60" y2="1193.00" stroke="#000" stroke-width="1.4" stroke-dasharray="4.2,2.6"/>
<path d="M475.20,1061.00 L475.68,1061.66 L476.17,1062.32 L476.65,1062.99 L477.14,1063.66 L477.62,1064.34 L478.11,1065.02 L478.59,1065.71 L479.08,1066.40 L479.56,1067.09 L480.05,1067.79 L480.53,1068.49 L481.02,1069.20 L481.50,1069.91 L481.99,1070.62 L482.47,1071.34 L482.96,1072.06 L483.44,1072.79 L483.93,1073.52 L484.41,1074.25 L484.90,1074.99 L485.38,1075.73 L485.87,1076.48 L486.35,1077.23 L486.40,1077.30 L486.84,1077.99 L487.32,1078.77 L487.81,1079.58 L488.29,1080.40 L488.78,1081.24 L489.26,1082.09 L489.75,1082.95 L490.23,1083.82 L490.72,1084.70 L491.20,1085.58 L491.69,1086.46 L492.17,1087.33 L492.66,1088.21 L493.14,1089.07 L493.63,1089.93 L494.11,1090.77 L494.60,1091.61 L495.08,1092.42 L495.57,1093.21 L496.05,1093.99 L496.54,1094.74 L497.02,1095.46 L497.51,1096.15 L497.99,1096.82 L498.48,1097.44 L498.60,1097.60 L498.96,1098.05 L499.45,1098.68 L499.93,1099.32 L500.42,1099.98 L500.90,1100.63 L501.38,1101.29 L501.87,1101.94 L502.35,1102.59 L502.84,1103.21 L503.32,1103.82 L503.81,1104.40 L504.29,1104.95 L504.78,1105.47 L505.26,1105.94 L505.75,1106.37 L506.23,1106.75 L506.72,1107.07 L507.20,1107.33 L507.69,1107.53 L508.17,1107.65 L508.66,1107.70 L508.70,1107.70 L509.14,1107.69 L509.63,1107.64 L510.11,1107.56 L510.60,1107.45 L511.08,1107.30 L511.57,1107.13 L512.05,1106.94 L512.54,1106.71 L513.02,1106.46 L513.51,1106.19 L513.99,1105.89 L514.48,1105.57 L514.96,1105.23 L515.45,1104.88 L515.93,1104.50 L516.42,1104.11 L516.90,1103.70 L516.90,1103.70 L517.39,1103.18 L517.87,1102.47 L518.36,1101.59 L518.84,1100.55 L519.33,1099.35 L519.81,1098.03 L520.30,1096.58 L520.78,1095.03 L521.27,1093.40 L521.75,1091.68 L522.24,1089.91 L522.72,1088.08 L522.90,1087.40 L523.21,1086.12 L523.69,1083.66 L524.18,1080.80 L524.66,1077.67 L525.15,1074.40 L525.63,1071.12 L526.11,1067.98 L526.60,1065.09 L527.00,1063.00 L527.08,1062.59 L527.57,1060.31 L528.05,1058.13 L528.54,1056.02 L529.02,1054.00 L529.51,1052.03 L529.99,1050.13 L530.48,1048.27 L530.96,1046.45 L531.45,1044.66 L531.93,1042.90 L532.42,1041.15 L532.90,1039.41 L533.10,1038.70 L533.39,1037.67 L533.87,1035.98 L534.36,1034.32 L534.84,1032.71 L535.33,1031.12 L535.81,1029.56 L536.30,1028.03 L536.78,1026.50 L537.27,1024.98 L537.75,1023.47 L538.24,1021.95 L538.72,1020.43 L539.21,1018.89 L539.69,1017.33 L540.18,1015.75 L540.66,1014.13 L541.15,1012.48 L541.20,1012.30 L541.63,1010.78 L542.12,1009.02 L542.60,1007.22 L543.09,1005.39 L543.57,1003.53 L544.06,1001.67 L544.54,999.82 L545.03,997.98 L545.51,996.18 L546.00,994.42 L546.48,992.71 L546.97,991.08 L547.30,990.00 L547.45,989.53 L547.94,988.06 L548.42,986.66 L548.91,985.33 L549.39,984.05 L549.88,982.81 L550.36,981.60 L550.85,980.39 L551.33,979.20 L551.81,977.99 L552.30,976.76 L552.78,975.50 L553.27,974.19 L553.75,972.82 L554.24,971.39 L554.72,969.87 L555.21,968.26 L555.40,967.60 L555.69,966.54 L556.18,964.68 L556.66,962.70 L557.15,960.61 L557.63,958.43 L558.12,956.16 L558.60,953.82 L559.09,951.43 L559.57,949.00 L560.06,946.54 L560.54,944.06 L561.03,941.59 L561.50,939.20 L561.51,939.13 L562.00,936.66 L562.48,934.12 L562.97,931.52 L563.45,928.89 L563.94,926.22 L564.42,923.52 L564.91,920.80 L565.39,918.07 L565.60,916.90 L565.88,915.32 L566.36,912.49 L566.85,909.62 L567.33,906.73 L567.82,903.88 L568.30,901.11 L568.50,900.00 L568.79,898.42 L569.27,895.73 L569.76,893.08 L570.24,890.50 L570.73,888.02 L571.21,885.67 L571.40,884.80 L571.70,883.49 L572.18,881.47 L572.67,879.56 L573.15,877.74 L573.64,875.96 L574.12,874.20 L574.61,872.40 L575.09,870.54 L575.58,868.59 L575.90,867.20 L576.06,866.50 L576.54,864.32 L577.03,862.07 L577.51,859.77 L578.00,857.41 L578.48,855.00 L578.97,852.55 L579.45,850.06 L579.94,847.54 L580.42,844.98 L580.91,842.41 L581.39,839.82 L581.88,837.22 L582.20,835.50 L582.36,834.62 L582.85,831.94 L583.33,829.21 L583.82,826.43 L584.30,823.61 L584.79,820.77 L585.27,817.94 L585.76,815.11 L586.24,812.32 L586.73,809.56 L586.90,808.60 L587.21,806.85 L587.70,804.14 L588.18,801.42 L588.67,798.71 L589.15,796.01 L589.64,793.33 L590.12,790.68 L590.61,788.06 L591.09,785.48 L591.58,782.96 L592.06,780.49 L592.30,779.30 L592.55,778.08 L593.03,775.72 L593.52,773.39 L594.00,771.10 L594.49,768.84 L594.97,766.61 L595.46,764.41 L595.94,762.24 L596.43,760.09 L596.91,757.97 L597.40,755.87 L597.88,753.79 L598.30,752.00 L598.37,751.72 L598.85,749.67 L599.34,747.64 L599.82,745.65 L600.31,743.71 L600.79,741.82 L601.25,740.10 L601.28,740.01 L601.76,738.21 L602.24,736.42 L602.73,734.67 L603.21,733.00 L603.70,731.45 L604.18,730.06 L604.40,729.50 L604.67,728.84 L605.15,727.73 L605.64,726.70 L606.12,725.78 L606.61,724.95 L606.90,724.50 L607.09,724.22 L607.58,723.53 L608.06,722.89 L608.55,722.32 L609.03,721.86 L609.40,721.60 L609.52,721.53 L610.00,721.26 L610.30,721.20 L610.49,721.21 L610.97,721.37 L611.46,721.65 L611.94,722.01 L612.43,722.41 L612.90,722.80 L612.91,722.81 L613.40,723.20 L613.88,723.62 L614.37,724.07 L614.85,724.58 L615.34,725.15 L615.82,725.81 L616.31,726.55 L616.40,726.70 L616.79,727.49 L617.28,728.81 L617.76,730.40 L618.25,732.18 L618.73,734.05 L619.22,735.93 L619.70,737.72 L619.90,738.40 L620.19,739.35 L620.67,740.94 L621.16,742.52 L621.64,744.10 L622.13,745.71 L622.61,747.36 L623.10,749.08 L623.40,750.20 L623.58,750.88 L624.07,752.71 L624.55,754.59 L625.04,756.57 L625.52,758.67 L626.01,760.94 L626.20,761.90 L626.49,763.46 L626.97,766.40 L627.46,769.54 L627.94,772.65 L628.10,773.60 L628.43,775.54 L628.91,778.33 L629.40,781.10 L629.88,783.97 L630.10,785.30 L630.37,787.03 L630.85,790.32 L631.34,793.72 L631.82,797.09 L632.31,800.32 L632.40,800.90 L632.79,803.36 L633.28,806.32 L633.76,809.19 L634.25,811.97 L634.73,814.64 L634.80,815.00 L635.22,817.16 L635.70,819.52 L636.19,821.79 L636.67,824.05 L637.16,826.38 L637.64,828.85 L637.80,829.70 L638.13,831.54 L638.61,834.40 L639.10,837.41 L639.58,840.52 L640.07,843.70 L640.55,846.91 L641.04,850.12 L641.52,853.28 L642.01,856.37 L642.49,859.35 L642.50,859.40 L642.98,862.27 L643.46,865.18 L643.95,868.07 L644.43,870.92 L644.92,873.69 L645.40,876.36 L645.89,878.92 L646.10,880.00 L646.37,881.34 L646.86,883.68 L647.34,885.96 L647.83,888.18 L648.31,890.34 L648.80,892.46 L649.28,894.53 L649.77,896.57 L650.25,898.57 L650.74,900.54 L651.22,902.49 L651.71,904.43 L652.19,906.36 L652.20,906.40 L652.67,908.30 L653.16,910.26 L653.64,912.23 L654.13,914.20 L654.61,916.14 L655.10,918.05 L655.58,919.91 L656.07,921.71 L656.55,923.43 L657.04,925.05 L657.52,926.57 L658.01,927.97 L658.30,928.75 L658.49,929.25 L658.98,930.51 L659.46,931.75 L659.95,932.98 L660.43,934.18 L660.92,935.32 L661.40,936.40 L661.89,937.41 L662.37,938.33 L662.86,939.14 L663.34,939.84 L663.83,940.41 L664.31,940.84 L664.40,940.90 L664.80,941.16 L665.28,941.47 L665.77,941.76 L666.25,942.04 L666.74,942.31 L667.22,942.56 L667.71,942.80 L668.19,943.01 L668.68,943.21 L669.16,943.39 L669.65,943.55 L670.13,943.68 L670.62,943.80 L671.10,943.89 L671.59,943.95 L672.07,943.99 L672.50,944.00 L672.56,944.00 L673.04,943.96 L673.53,943.86 L674.01,943.71 L674.50,943.52 L674.98,943.27 L675.47,943.00 L675.95,942.69 L676.44,942.35 L676.92,942.00 L677.41,941.63 L677.89,941.24 L678.37,940.86 L678.86,940.47 L679.34,940.09 L679.60,939.90 L679.83,939.72 L680.31,939.27 L680.80,938.76 L681.28,938.18 L681.77,937.54 L682.25,936.86 L682.74,936.14 L683.22,935.40 L683.71,934.63 L684.19,933.85 L684.68,933.07 L685.16,932.30 L685.65,931.54 L686.13,930.81 L686.62,930.11 L687.10,929.45 L687.59,928.84 L688.07,928.29 L688.56,927.80 L689.04,927.40 L689.53,927.08 L690.01,926.85 L690.50,926.72 L690.80,926.70 L690.98,926.70 L691.47,926.71 L691.95,926.73 L692.44,926.75 L692.92,926.79 L693.41,926.83 L693.89,926.88 L694.38,926.93 L694.86,926.99 L695.35,927.06 L695.83,927.14 L696.32,927.21 L696.80,927.30 L697.29,927.38 L697.77,927.48 L698.26,927.57 L698.74,927.67 L698.90,927.70 L699.23,927.78 L699.71,927.92 L700.20,928.11 L700.68,928.33 L701.17,928.59 L701.65,928.88 L702.14,929.21 L702.62,929.55 L703.10,929.93 L703.59,930.33 L704.07,930.75 L704.56,931.19 L705.04,931.65 L705.53,932.12 L706.01,932.60 L706.50,933.10 L706.98,933.60 L707.47,934.11 L707.95,934.62 L708.44,935.14 L708.92,935.65 L709.41,936.17 L709.89,936.67 L710.38,937.17 L710.86,937.66 L711.10,937.90 L711.35,938.15 L711.83,938.63 L712.32,939.11 L712.80,939.60 L713.29,940.10 L713.77,940.60 L714.26,941.11 L714.74,941.63 L715.23,942.16 L715.71,942.70 L716.20,943.25 L716.68,943.81 L717.17,944.40 L717.65,944.99 L718.14,945.60 L718.62,946.24 L719.11,946.89 L719.59,947.56 L720.08,948.25 L720.56,948.96 L721.05,949.70 L721.30,950.10 L721.53,950.47 L722.02,951.30 L722.50,952.19 L722.99,953.14 L723.47,954.13 L723.96,955.18 L724.44,956.26 L724.93,957.38 L725.41,958.53 L725.90,959.71 L726.38,960.91 L726.87,962.13 L727.35,963.36 L727.84,964.59 L728.32,965.83 L728.80,967.06 L729.29,968.29 L729.77,969.50 L730.26,970.69 L730.74,971.86 L731.23,973.01 L731.40,973.40 L731.71,974.12 L732.20,975.24 L732.68,976.36 L733.17,977.47 L733.65,978.59 L734.14,979.71 L734.62,980.83 L735.11,981.95 L735.59,983.08 L736.08,984.20 L736.56,985.32 L737.05,986.44 L737.53,987.55 L738.02,988.67 L738.50,989.79 L738.99,990.91 L739.47,992.02 L739.96,993.13 L740.44,994.24 L740.93,995.35 L741.41,996.46 L741.90,997.57 L742.38,998.67 L742.87,999.77 L743.35,1000.86 L743.84,1001.96 L744.32,1003.05 L744.81,1004.13 L745.29,1005.21 L745.60,1005.90 L745.78,1006.29 L746.26,1007.36 L746.75,1008.43 L747.23,1009.49 L747.72,1010.54 L748.20,1011.59 L748.69,1012.63 L749.17,1013.67 L749.66,1014.71 L750.14,1015.74 L750.63,1016.78 L751.11,1017.81 L751.60,1018.84 L752.08,1019.87 L752.57,1020.91 L753.05,1021.94 L753.53,1022.98 L754.02,1024.02 L754.50,1025.06 L754.99,1026.11 L755.47,1027.16 L755.96,1028.22 L756.44,1029.29 L756.93,1030.36 L757.41,1031.44 L757.80,1032.30 L757.90,1032.52 L758.38,1033.65 L758.87,1034.83 L759.35,1036.05 L759.84,1037.30 L760.32,1038.58 L760.81,1039.89 L761.29,1041.22 L761.78,1042.55 L762.26,1043.89 L762.75,1045.23 L763.23,1046.56 L763.72,1047.88 L764.20,1049.17 L764.69,1050.44 L765.17,1051.68 L765.66,1052.87 L766.14,1054.02 L766.63,1055.12 L767.11,1056.16 L767.60,1057.14 L768.08,1058.04 L768.57,1058.87 L769.05,1059.61 L769.54,1060.27 L770.00,1060.80 L770.02,1060.82 L770.51,1061.33 L770.99,1061.84 L771.48,1062.34 L771.96,1062.84 L772.45,1063.32 L772.93,1063.79 L773.42,1064.25 L773.90,1064.69 L774.39,1065.11 L774.87,1065.51 L775.36,1065.89 L775.84,1066.24 L776.33,1066.57 L776.81,1066.86 L777.30,1067.13 L777.78,1067.35 L778.27,1067.54 L778.75,1067.70 L779.23,1067.81 L779.72,1067.88 L780.20,1067.90 L780.20,1067.90 L780.69,1067.87 L781.17,1067.77 L781.66,1067.60 L782.14,1067.38 L782.63,1067.11 L783.11,1066.78 L783.60,1066.40 L784.08,1065.98 L784.57,1065.51 L785.05,1065.00 L785.54,1064.45 L786.02,1063.87 L786.51,1063.26 L786.99,1062.62 L787.48,1061.96 L787.96,1061.28 L788.45,1060.57 L788.93,1059.85 L789.42,1059.12 L789.90,1058.38 L790.39,1057.64 L790.87,1056.89 L791.36,1056.14 L791.84,1055.40 L792.30,1054.70 L792.33,1054.66 L792.81,1053.90 L793.30,1053.10 L793.78,1052.26 L794.27,1051.38 L794.75,1050.46 L795.24,1049.50 L795.72,1048.49 L796.21,1047.45 L796.69,1046.37 L797.18,1045.24 L797.66,1044.08 L798.15,1042.87 L798.63,1041.63 L799.12,1040.35 L799.60,1039.02 L800.09,1037.66 L800.57,1036.26 L801.06,1034.82 L801.54,1033.34 L802.03,1031.82 L802.50,1030.30 L802.51,1030.27 L803.00,1028.58 L803.48,1026.68 L803.96,1024.62 L804.45,1022.41 L804.93,1020.09 L805.42,1017.68 L805.90,1015.22 L806.39,1012.74 L806.87,1010.26 L807.36,1007.81 L807.84,1005.42 L808.33,1003.13 L808.60,1001.90 L808.81,1000.94 L809.30,998.75 L809.78,996.54 L810.27,994.31 L810.75,992.08 L811.24,989.85 L811.72,987.63 L812.21,985.43 L812.69,983.25 L813.18,981.11 L813.66,979.01 L814.15,976.96 L814.63,974.97 L815.12,973.04 L815.60,971.19 L816.09,969.41 L816.57,967.73 L816.70,967.30 L817.06,966.12 L817.54,964.53 L818.03,962.97 L818.51,961.43 L819.00,959.92 L819.48,958.45 L819.97,957.01 L820.45,955.60 L820.94,954.24 L821.42,952.92 L821.91,951.65 L822.39,950.43 L822.88,949.26 L823.36,948.14 L823.85,947.08 L824.33,946.09 L824.82,945.16 L824.90,945.00 L825.30,944.27 L825.79,943.38 L826.27,942.51 L826.76,941.65 L827.24,940.82 L827.73,940.00 L828.21,939.21 L828.70,938.45 L829.18,937.73 L829.66,937.05 L830.15,936.41 L830.63,935.82 L831.12,935.29 L831.60,934.81 L832.09,934.40 L832.57,934.05 L833.00,933.80 L833.06,933.77 L833.54,933.52 L834.03,933.28 L834.51,933.05 L835.00,932.83 L835.48,932.63 L835.97,932.44 L836.45,932.27 L836.94,932.12 L837.42,932.00 L837.91,931.90 L838.39,931.84 L838.88,931.80 L839.10,931.80 L839.36,931.81 L839.85,931.87 L840.33,931.97 L840.82,932.13 L841.30,932.32 L841.79,932.56 L842.27,932.82 L842.76,933.11 L843.24,933.42 L843.73,933.75 L844.21,934.09 L844.70,934.44 L845.18,934.79 L845.20,934.80 L845.67,935.17 L846.15,935.62 L846.64,936.13 L847.12,936.69 L847.61,937.32 L848.09,937.99 L848.58,938.70 L849.06,939.46 L849.55,940.26 L850.03,941.09 L850.52,941.94 L851.00,942.83 L851.49,943.73 L851.97,944.65 L852.46,945.58 L852.94,946.53 L853.43,947.47 L853.91,948.42 L854.39,949.36 L854.88,950.30 L855.30,951.10 L855.36,951.22 L855.85,952.18 L856.33,953.18 L856.82,954.24 L857.30,955.33 L857.79,956.45 L858.27,957.59 L858.76,958.75 L859.24,959.93 L859.73,961.10 L860.21,962.27 L860.70,963.44 L861.18,964.58 L861.67,965.70 L862.15,966.79 L862.64,967.84 L863.12,968.85 L863.40,969.40 L863.61,969.81 L864.09,970.75 L864.58,971.69 L865.06,972.62 L865.55,973.54 L866.03,974.45 L866.52,975.34 L867.00,976.23 L867.49,977.09 L867.97,977.94 L868.46,978.77 L868.94,979.58 L869.43,980.37 L869.91,981.13 L870.40,981.87 L870.88,982.59 L871.37,983.28 L871.60,983.60 L871.85,983.94 L872.34,984.59 L872.82,985.22 L873.31,985.83 L873.79,986.44 L874.28,987.03 L874.76,987.61 L875.25,988.17 L875.73,988.73 L876.22,989.27 L876.70,989.80 L877.19,990.33 L877.67,990.84 L878.16,991.34 L878.64,991.84 L879.13,992.33 L879.61,992.81 L880.09,993.28 L880.58,993.75 L881.06,994.21 L881.55,994.66 L881.70,994.80 L882.03,995.10 L882.52,995.53 L883.00,995.93 L883.49,996.31 L883.97,996.67 L884.46,997.02 L884.94,997.37 L885.43,997.70 L885.91,998.03 L886.40,998.36 L886.88,998.68 L887.37,999.01 L887.85,999.35 L888.34,999.69 L888.82,1000.05 L889.31,1000.42 L889.79,1000.81 L890.28,1001.21 L890.76,1001.64 L891.25,1002.09 L891.73,1002.58 L892.22,1003.09 L892.50,1003.40 L892.70,1003.63 L893.19,1004.23 L893.67,1004.89 L894.16,1005.59 L894.64,1006.34 L895.13,1007.14 L895.61,1007.98 L896.10,1008.85 L896.58,1009.76 L897.07,1010.70 L897.55,1011.66 L898.04,1012.65 L898.52,1013.67 L899.01,1014.69 L899.49,1015.74 L899.98,1016.79 L900.30,1017.50 L900.46,1017.86 L900.95,1018.98 L901.43,1020.16 L901.92,1021.39 L902.40,1022.67 L902.89,1024.00 L903.37,1025.35 L903.86,1026.73 L904.34,1028.13 L904.83,1029.55 L905.31,1030.96 L905.79,1032.38 L906.28,1033.78 L906.60,1034.70 L906.76,1035.17 L907.25,1036.57 L907.73,1037.98 L908.22,1039.41 L908.70,1040.85 L909.19,1042.30 L909.67,1043.75 L910.16,1045.22 L910.64,1046.69 L911.13,1048.16 L911.61,1049.64 L912.10,1051.12 L912.58,1052.60 L913.07,1054.07 L913.55,1055.54 L914.04,1057.01 L914.40,1058.10 L914.52,1058.47 L915.01,1059.93 L915.49,1061.40 L915.98,1062.88 L916.46,1064.35 L916.95,1065.83 L917.43,1067.31 L917.92,1068.79 L918.40,1070.27 L918.89,1071.74 L919.37,1073.21 L919.86,1074.67 L920.34,1076.12 L920.83,1077.57 L921.31,1079.00 L921.80,1080.43 L922.20,1081.60 L922.28,1081.84 L922.77,1083.25 L923.25,1084.66 L923.74,1086.07 L924.22,1087.48 L924.71,1088.89 L925.19,1090.30 L925.68,1091.69 L926.16,1093.08 L926.65,1094.45 L927.13,1095.80 L927.62,1097.14 L928.10,1098.46 L928.59,1099.76 L929.07,1101.03 L929.56,1102.28 L930.00,1103.40 L930.04,1103.50 L930.52,1104.71 L931.01,1105.92 L931.49,1107.12 L931.98,1108.31 L932.46,1109.49 L932.95,1110.65 L933.43,1111.77 L933.92,1112.87 L934.40,1113.93 L934.89,1114.94 L935.37,1115.90 L935.86,1116.81 L936.25,1117.50 L936.34,1117.66 L936.83,1118.48 L937.31,1119.29 L937.80,1120.07 L938.28,1120.84 L938.77,1121.58 L939.25,1122.30 L939.74,1122.98 L940.22,1123.63 L940.71,1124.24 L941.19,1124.80 L941.68,1125.33 L942.16,1125.80 L942.50,1126.10 L942.65,1126.23 L943.13,1126.64 L943.62,1127.06 L944.10,1127.47 L944.59,1127.88 L945.07,1128.28 L945.56,1128.66 L946.04,1129.02 L946.53,1129.37 L947.01,1129.68 L947.50,1129.96 L947.98,1130.21 L948.47,1130.42 L948.95,1130.59 L949.44,1130.71 L949.92,1130.78 L950.30,1130.80 L950.41,1130.80 L950.89,1130.77 L951.38,1130.72 L951.86,1130.63 L952.35,1130.52 L952.83,1130.38 L953.32,1130.22 L953.80,1130.05 L954.29,1129.87 L954.77,1129.67 L955.26,1129.47 L955.74,1129.26 L956.22,1129.06 L956.71,1128.86 L957.19,1128.66 L957.68,1128.47 L958.16,1128.30 L958.65,1128.14 L959.13,1128.00 L959.62,1127.89 L960.10,1127.79 L960.59,1127.73 L961.07,1127.70 L961.25,1127.70 L961.56,1127.70 L962.04,1127.70 L962.53,1127.71 L963.01,1127.72 L963.50,1127.73 L963.98,1127.75 L964.47,1127.76 L964.95,1127.78 L965.44,1127.80 L965.92,1127.83 L966.41,1127.85 L966.89,1127.88 L967.38,1127.91 L967.86,1127.94 L968.35,1127.97 L968.83,1128.01 L969.32,1128.04 L969.80,1128.08 L970.29,1128.12 L970.77,1128.15 L971.26,1128.19 L971.74,1128.23 L972.23,1128.27 L972.71,1128.31 L973.20,1128.35 L973.68,1128.39 L973.75,1128.40 L974.17,1128.44 L974.65,1128.49 L975.14,1128.54 L975.62,1128.60 L976.11,1128.66 L976.59,1128.73 L977.08,1128.81 L977.56,1128.88 L978.05,1128.96 L978.53,1129.05 L979.02,1129.14 L979.50,1129.23 L979.99,1129.32 L980.47,1129.42 L980.95,1129.52 L981.44,1129.62 L981.92,1129.72 L982.41,1129.82 L982.89,1129.93 L983.38,1130.03 L983.86,1130.14 L984.35,1130.24 L984.83,1130.35 L985.32,1130.46 L985.80,1130.56 L986.29,1130.67 L986.77,1130.77 L987.26,1130.87 L987.74,1130.97 L988.23,1131.07 L988.71,1131.17 L989.20,1131.26 L989.40,1131.30 L989.68,1131.35 L990.17,1131.45 L990.65,1131.54 L991.14,1131.63 L991.62,1131.73 L992.11,1131.82 L992.59,1131.92 L993.08,1132.02 L993.56,1132.11 L994.05,1132.21 L994.53,1132.31 L995.02,1132.40 L995.50,1132.50 L995.99,1132.60 L996.47,1132.70 L996.96,1132.79 L997.44,1132.89 L997.93,1132.99 L998.41,1133.08 L998.90,1133.18 L999.38,1133.27 L999.87,1133.37 L1000.35,1133.46 L1000.84,1133.55 L1001.32,1133.64 L1001.81,1133.74 L1002.29,1133.82 L1002.78,1133.91 L1003.26,1134.00 L1003.75,1134.09 L1004.23,1134.17 L1004.72,1134.25 L1005.00,1134.30 L1005.20,1134.33 L1005.69,1134.41 L1006.17,1134.49 L1006.65,1134.57 L1007.14,1134.64 L1007.62,1134.72 L1008.11,1134.79 L1008.59,1134.86 L1009.08,1134.93 L1009.56,1135.00 L1010.05,1135.07 L1010.53,1135.14 L1011.02,1135.21 L1011.50,1135.28 L1011.99,1135.35 L1012.47,1135.41 L1012.96,1135.48 L1013.44,1135.55 L1013.93,1135.62 L1014.41,1135.68 L1014.90,1135.75 L1015.38,1135.82 L1015.87,1135.89 L1016.35,1135.96 L1016.84,1136.03 L1017.32,1136.10 L1017.81,1136.17 L1018.29,1136.24 L1018.78,1136.31 L1019.26,1136.39 L1019.75,1136.46 L1020.23,1136.54 L1020.60,1136.60 L1020.72,1136.62 L1021.20,1136.70 L1021.69,1136.78 L1022.17,1136.86 L1022.66,1136.94 L1023.14,1137.03 L1023.63,1137.11 L1024.11,1137.20 L1024.60,1137.29 L1025.08,1137.37 L1025.57,1137.46 L1026.05,1137.55 L1026.54,1137.64 L1027.02,1137.73 L1027.51,1137.82 L1027.99,1137.91 L1028.48,1138.00 L1028.96,1138.09 L1029.45,1138.18 L1029.93,1138.27 L1030.42,1138.36 L1030.90,1138.45 L1031.38,1138.54 L1031.87,1138.63 L1032.35,1138.71 L1032.84,1138.80 L1033.32,1138.89 L1033.81,1138.98 L1034.29,1139.06 L1034.78,1139.15 L1035.26,1139.23 L1035.75,1139.32 L1036.23,1139.40 L1036.25,1139.40 L1036.72,1139.48 L1037.20,1139.56 L1037.69,1139.64 L1038.17,1139.72 L1038.66,1139.80 L1039.14,1139.88 L1039.63,1139.96 L1040.11,1140.04 L1040.60,1140.12 L1041.08,1140.20 L1041.57,1140.28 L1042.05,1140.36 L1042.54,1140.44 L1043.02,1140.52 L1043.51,1140.59 L1043.99,1140.67 L1044.48,1140.75 L1044.96,1140.83 L1045.45,1140.90 L1045.93,1140.98 L1046.42,1141.06 L1046.90,1141.13 L1047.39,1141.21 L1047.87,1141.29 L1048.36,1141.36 L1048.84,1141.44 L1049.33,1141.51 L1049.81,1141.59 L1050.30,1141.66 L1050.78,1141.73 L1051.27,1141.81 L1051.75,1141.88 L1052.24,1141.95 L1052.72,1142.03 L1053.21,1142.10 L1053.69,1142.17 L1054.18,1142.24 L1054.66,1142.32 L1055.15,1142.39 L1055.63,1142.46 L1056.12,1142.53 L1056.60,1142.60" fill="none" stroke="#000" stroke-width="3.6" stroke-linejoin="round" stroke-linecap="round"/>
<path d="M475.20,1018.39 L477.14,1017.55 L479.09,1016.67 L481.03,1015.74 L482.98,1014.77 L484.92,1013.75 L486.87,1012.68 L488.81,1011.57 L490.76,1010.39 L492.70,1009.17 L494.64,1007.89 L496.59,1006.55 L498.53,1005.16 L500.48,1003.70 L502.42,1002.18 L504.37,1000.60 L506.31,998.95 L508.26,997.23 L510.20,995.44 L512.15,993.58 L514.09,991.65 L516.03,989.65 L517.98,987.56 L519.92,985.41 L521.87,983.17 L523.81,980.85 L525.76,978.45 L527.70,975.97 L529.65,973.41 L531.59,970.77 L533.53,968.03 L535.48,965.22 L537.42,962.32 L539.37,959.33 L541.31,956.26 L543.26,953.10 L545.20,949.87 L547.15,946.55 L549.09,943.14 L551.03,939.66 L552.98,936.11 L554.92,932.48 L556.87,928.78 L558.81,925.01 L560.76,921.19 L562.70,917.30 L564.65,913.37 L566.59,909.40 L568.54,905.39 L570.48,901.36 L572.42,897.31 L574.37,893.26 L576.31,889.21 L578.26,885.18 L580.20,881.19 L582.15,877.25 L584.09,873.37 L586.04,869.57 L587.98,865.87 L589.92,862.28 L591.87,858.84 L593.81,855.55 L595.76,852.43 L597.70,849.51 L599.65,846.80 L601.59,844.33 L603.54,842.10 L605.48,840.15 L607.42,838.48 L609.37,837.11 L611.31,836.05 L613.26,835.31 L615.20,834.90 L617.15,834.82 L619.09,835.09 L621.04,835.68 L622.98,836.62 L624.93,837.88 L626.87,839.46 L628.81,841.36 L630.76,843.56 L632.70,846.04 L634.65,848.80 L636.59,851.81 L638.54,855.05 L640.48,858.51 L642.43,862.17 L644.37,866.00 L646.31,869.99 L648.26,874.13 L650.20,878.38 L652.15,882.73 L654.09,887.16 L656.04,891.66 L657.98,896.22 L659.93,900.80 L661.87,905.41 L663.81,910.03 L665.76,914.64 L667.70,919.24 L669.65,923.82 L671.59,928.36 L673.54,932.86 L675.48,937.31 L677.43,941.71 L679.37,946.05 L681.32,950.32 L683.26,954.52 L685.20,958.65 L687.15,962.70 L689.09,966.68 L691.04,970.57 L692.98,974.39 L694.93,978.12 L696.87,981.76 L698.82,985.32 L700.76,988.80 L702.70,992.19 L704.65,995.49 L706.59,998.71 L708.54,1001.85 L710.48,1004.90 L712.43,1007.88 L714.37,1010.77 L716.32,1013.58 L718.26,1016.31 L720.20,1018.96 L722.15,1021.54 L724.09,1024.05 L726.04,1026.48 L727.98,1028.84 L729.93,1031.13 L731.87,1033.35 L733.82,1035.51 L735.76,1037.60 L737.71,1039.63 L739.65,1041.59 L741.59,1043.50 L743.54,1045.35 L745.48,1047.15 L747.43,1048.89 L749.37,1050.58 L751.32,1052.21 L753.26,1053.80 L755.21,1055.35 L757.15,1056.84 L759.09,1058.29 L761.04,1059.70 L762.98,1061.07 L764.93,1062.40 L766.87,1063.69 L768.82,1064.95 L770.76,1066.17 L772.71,1067.36 L774.65,1068.51 L776.59,1069.63 L778.54,1070.73 L780.48,1071.79 L782.43,1072.83 L784.37,1073.84 L786.32,1074.83 L788.26,1075.79 L790.21,1076.73 L792.15,1077.65 L794.09,1078.54 L796.04,1079.42 L797.98,1080.27 L799.93,1081.11 L801.87,1081.93 L803.82,1082.73 L805.76,1083.52 L807.71,1084.29 L809.65,1085.05 L811.60,1085.79 L813.54,1086.52 L815.48,1087.23 L817.43,1087.93 L819.37,1088.62 L821.32,1089.30 L823.26,1089.97 L825.21,1090.63 L827.15,1091.27 L829.10,1091.91 L831.04,1092.54 L832.98,1093.15 L834.93,1093.76 L836.87,1094.36 L838.82,1094.96 L840.76,1095.54 L842.71,1096.12 L844.65,1096.69 L846.60,1097.25 L848.54,1097.81 L850.48,1098.36 L852.43,1098.90 L854.37,1099.44 L856.32,1099.97 L858.26,1100.49 L860.21,1101.02 L862.15,1101.53 L864.10,1102.04 L866.04,1102.55 L867.99,1103.05 L869.93,1103.54 L871.87,1104.03 L873.82,1104.52 L875.76,1105.00 L877.71,1105.48 L879.65,1105.95 L881.60,1106.42 L883.54,1106.89 L885.49,1107.35 L887.43,1107.81 L889.37,1108.27 L891.32,1108.72 L893.26,1109.17 L895.21,1109.61 L897.15,1110.05 L899.10,1110.49 L901.04,1110.93 L902.99,1111.36 L904.93,1111.79 L906.87,1112.22 L908.82,1112.64 L910.76,1113.07 L912.71,1113.49 L914.65,1113.90 L916.60,1114.32 L918.54,1114.73 L920.49,1115.14 L922.43,1115.55 L924.38,1115.95 L926.32,1116.36 L928.26,1116.76 L930.21,1117.16 L932.15,1117.56 L934.10,1117.95 L936.04,1118.34 L937.99,1118.74 L939.93,1119.12 L941.88,1119.51 L943.82,1119.90 L945.76,1120.28 L947.71,1120.67 L949.65,1121.05 L951.60,1121.42 L953.54,1121.80 L955.49,1122.18 L957.43,1122.55 L959.38,1122.93 L961.32,1123.30 L963.26,1123.67 L965.21,1124.04 L967.15,1124.40 L969.10,1124.77 L971.04,1125.13 L972.99,1125.50 L974.93,1125.86 L976.88,1126.22 L978.82,1126.58 L980.77,1126.94 L982.71,1127.30 L984.65,1127.65 L986.60,1128.01 L988.54,1128.36 L990.49,1128.72 L992.43,1129.07 L994.38,1129.42 L996.32,1129.77 L998.27,1130.12 L1000.21,1130.46 L1002.15,1130.81 L1004.10,1131.16 L1006.04,1131.50 L1007.99,1131.85 L1009.93,1132.19 L1011.88,1132.53 L1013.82,1132.87 L1015.77,1133.21 L1017.71,1133.55 L1019.65,1133.89 L1021.60,1134.23 L1023.54,1134.57 L1025.49,1134.91 L1027.43,1135.24 L1029.38,1135.58 L1031.32,1135.91 L1033.27,1136.25 L1035.21,1136.58 L1037.16,1136.91 L1039.10,1137.24 L1041.04,1137.58 L1042.99,1137.91 L1044.93,1138.24 L1046.88,1138.56 L1048.82,1138.89 L1050.77,1139.22 L1052.71,1139.55 L1054.66,1139.88 L1056.60,1140.20" fill="none" stroke="#008080" stroke-width="3.5" stroke-linejoin="round" stroke-linecap="round"/>
<path d="M475.20,1014.17 L477.14,1013.26 L479.09,1012.31 L481.03,1011.31 L482.98,1010.27 L484.92,1009.18 L486.87,1008.04 L488.81,1006.85 L490.76,1005.61 L492.70,1004.31 L494.64,1002.95 L496.59,1001.54 L498.53,1000.07 L500.48,998.53 L502.42,996.94 L504.37,995.27 L506.31,993.54 L508.26,991.74 L510.20,989.88 L512.15,987.94 L514.09,985.92 L516.03,983.83 L517.98,981.67 L519.92,979.42 L521.87,977.10 L523.81,974.70 L525.76,972.21 L527.70,969.64 L529.65,966.99 L531.59,964.25 L533.53,961.43 L535.48,958.52 L537.42,955.53 L539.37,952.44 L541.31,949.28 L543.26,946.02 L545.20,942.69 L547.15,939.27 L549.09,935.76 L551.03,932.18 L552.98,928.52 L554.92,924.78 L556.87,920.98 L558.81,917.11 L560.76,913.17 L562.70,909.18 L564.65,905.14 L566.59,901.06 L568.54,896.94 L570.48,892.80 L572.42,888.64 L574.37,884.47 L576.31,880.31 L578.26,876.18 L580.20,872.07 L582.15,868.02 L584.09,864.03 L586.04,860.12 L587.98,856.30 L589.92,852.61 L591.87,849.05 L593.81,845.64 L595.76,842.41 L597.70,839.37 L599.65,836.54 L601.59,833.94 L603.54,831.58 L605.48,829.49 L607.42,827.67 L609.37,826.14 L611.31,824.91 L613.26,823.99 L615.20,823.38 L617.15,823.10 L619.09,823.13 L621.04,823.48 L622.98,824.15 L624.93,825.13 L626.87,826.41 L628.81,827.98 L630.76,829.83 L632.70,831.95 L634.65,834.31 L636.59,836.90 L638.54,839.71 L640.48,842.71 L642.43,845.88 L644.37,849.21 L646.31,852.68 L648.26,856.27 L650.20,859.95 L652.15,863.72 L654.09,867.55 L656.04,871.42 L657.98,875.33 L659.93,879.26 L661.87,883.20 L663.81,887.12 L665.76,891.03 L667.70,894.91 L669.65,898.75 L671.59,902.54 L673.54,906.28 L675.48,909.96 L677.43,913.57 L679.37,917.11 L681.32,920.57 L683.26,923.96 L685.20,927.26 L687.15,930.47 L689.09,933.60 L691.04,936.64 L692.98,939.59 L694.93,942.44 L696.87,945.21 L698.82,947.88 L700.76,950.46 L702.70,952.95 L704.65,955.35 L706.59,957.66 L708.54,959.88 L710.48,962.02 L712.43,964.06 L714.37,966.03 L716.32,967.91 L718.26,969.71 L720.20,971.43 L722.15,973.07 L724.09,974.64 L726.04,976.13 L727.98,977.56 L729.93,978.91 L731.87,980.20 L733.82,981.43 L735.76,982.59 L737.71,983.69 L739.65,984.74 L741.59,985.73 L743.54,986.66 L745.48,987.55 L747.43,988.39 L749.37,989.19 L751.32,989.94 L753.26,990.65 L755.21,991.32 L757.15,991.95 L759.09,992.56 L761.04,993.13 L762.98,993.67 L764.93,994.19 L766.87,994.68 L768.82,995.14 L770.76,995.59 L772.71,996.02 L774.65,996.44 L776.59,996.84 L778.54,997.23 L780.48,997.61 L782.43,997.98 L784.37,998.34 L786.32,998.70 L788.26,999.06 L790.21,999.42 L792.15,999.78 L794.09,1000.15 L796.04,1000.51 L797.98,1000.89 L799.93,1001.27 L801.87,1001.66 L803.82,1002.06 L805.76,1002.47 L807.71,1002.90 L809.65,1003.34 L811.60,1003.80 L813.54,1004.27 L815.48,1004.76 L817.43,1005.27 L819.37,1005.79 L821.32,1006.34 L823.26,1006.91 L825.21,1007.50 L827.15,1008.11 L829.10,1008.74 L831.04,1009.40 L832.98,1010.08 L834.93,1010.78 L836.87,1011.50 L838.82,1012.25 L840.76,1013.03 L842.71,1013.82 L844.65,1014.64 L846.60,1015.49 L848.54,1016.35 L850.48,1017.25 L852.43,1018.16 L854.37,1019.09 L856.32,1020.05 L858.26,1021.03 L860.21,1022.03 L862.15,1023.05 L864.10,1024.09 L866.04,1025.16 L867.99,1026.24 L869.93,1027.33 L871.87,1028.45 L873.82,1029.58 L875.76,1030.73 L877.71,1031.90 L879.65,1033.08 L881.60,1034.27 L883.54,1035.48 L885.49,1036.70 L887.43,1037.94 L889.37,1039.18 L891.32,1040.43 L893.26,1041.70 L895.21,1042.97 L897.15,1044.25 L899.10,1045.54 L901.04,1046.84 L902.99,1048.14 L904.93,1049.45 L906.87,1050.76 L908.82,1052.07 L910.76,1053.39 L912.71,1054.71 L914.65,1056.03 L916.60,1057.36 L918.54,1058.68 L920.49,1060.01 L922.43,1061.33 L924.38,1062.65 L926.32,1063.97 L928.26,1065.29 L930.21,1066.60 L932.15,1067.91 L934.10,1069.22 L936.04,1070.52 L937.99,1071.82 L939.93,1073.11 L941.88,1074.39 L943.82,1075.67 L945.76,1076.94 L947.71,1078.20 L949.65,1079.45 L951.60,1080.70 L953.54,1081.94 L955.49,1083.16 L957.43,1084.38 L959.38,1085.59 L961.32,1086.79 L963.26,1087.98 L965.21,1089.15 L967.15,1090.32 L969.10,1091.47 L971.04,1092.62 L972.99,1093.75 L974.93,1094.87 L976.88,1095.98 L978.82,1097.07 L980.77,1098.15 L982.71,1099.23 L984.65,1100.28 L986.60,1101.33 L988.54,1102.36 L990.49,1103.38 L992.43,1104.39 L994.38,1105.38 L996.32,1106.36 L998.27,1107.33 L1000.21,1108.29 L1002.15,1109.23 L1004.10,1110.16 L1006.04,1111.07 L1007.99,1111.98 L1009.93,1112.87 L1011.88,1113.74 L1013.82,1114.61 L1015.77,1115.46 L1017.71,1116.30 L1019.65,1117.12 L1021.60,1117.94 L1023.54,1118.74 L1025.49,1119.53 L1027.43,1120.31 L1029.38,1121.07 L1031.32,1121.83 L1033.27,1122.57 L1035.21,1123.30 L1037.16,1124.02 L1039.10,1124.73 L1041.04,1125.43 L1042.99,1126.11 L1044.93,1126.79 L1046.88,1127.46 L1048.82,1128.11 L1050.77,1128.76 L1052.71,1129.39 L1054.66,1130.02 L1056.60,1130.63" fill="none" stroke="#ff0000" stroke-width="3.5" stroke-linejoin="round" stroke-linecap="round"/>
<path d="M475.20,1058.81 L477.14,1059.05 L479.09,1059.30 L481.03,1059.54 L482.98,1059.78 L484.92,1060.02 L486.87,1060.26 L488.81,1060.50 L490.76,1060.73 L492.70,1060.97 L494.64,1061.20 L496.59,1061.43 L498.53,1061.66 L500.48,1061.89 L502.42,1062.11 L504.37,1062.33 L506.31,1062.55 L508.26,1062.77 L510.20,1062.99 L512.15,1063.20 L514.09,1063.41 L516.03,1063.62 L517.98,1063.82 L519.92,1064.02 L521.87,1064.22 L523.81,1064.42 L525.76,1064.61 L527.70,1064.80 L529.65,1064.99 L531.59,1065.17 L533.53,1065.35 L535.48,1065.52 L537.42,1065.70 L539.37,1065.86 L541.31,1066.03 L543.26,1066.18 L545.20,1066.34 L547.15,1066.49 L549.09,1066.63 L551.03,1066.77 L552.98,1066.91 L554.92,1067.04 L556.87,1067.16 L558.81,1067.28 L560.76,1067.39 L562.70,1067.50 L564.65,1067.60 L566.59,1067.70 L568.54,1067.78 L570.48,1067.87 L572.42,1067.94 L574.37,1068.01 L576.31,1068.07 L578.26,1068.12 L580.20,1068.17 L582.15,1068.21 L584.09,1068.24 L586.04,1068.27 L587.98,1068.28 L589.92,1068.29 L591.87,1068.29 L593.81,1068.28 L595.76,1068.26 L597.70,1068.23 L599.65,1068.20 L601.59,1068.15 L603.54,1068.09 L605.48,1068.03 L607.42,1067.96 L609.37,1067.87 L611.31,1067.78 L613.26,1067.67 L615.20,1067.56 L617.15,1067.43 L619.09,1067.30 L621.04,1067.15 L622.98,1066.99 L624.93,1066.82 L626.87,1066.64 L628.81,1066.45 L630.76,1066.25 L632.70,1066.04 L634.65,1065.81 L636.59,1065.58 L638.54,1065.33 L640.48,1065.07 L642.43,1064.80 L644.37,1064.52 L646.31,1064.22 L648.26,1063.92 L650.20,1063.60 L652.15,1063.27 L654.09,1062.93 L656.04,1062.58 L657.98,1062.21 L659.93,1061.84 L661.87,1061.45 L663.81,1061.05 L665.76,1060.64 L667.70,1060.22 L669.65,1059.79 L671.59,1059.34 L673.54,1058.89 L675.48,1058.43 L677.43,1057.95 L679.37,1057.47 L681.32,1056.97 L683.26,1056.47 L685.20,1055.95 L687.15,1055.43 L689.09,1054.90 L691.04,1054.36 L692.98,1053.81 L694.93,1053.25 L696.87,1052.69 L698.82,1052.12 L700.76,1051.54 L702.70,1050.95 L704.65,1050.36 L706.59,1049.76 L708.54,1049.16 L710.48,1048.55 L712.43,1047.94 L714.37,1047.33 L716.32,1046.71 L718.26,1046.09 L720.20,1045.46 L722.15,1044.84 L724.09,1044.21 L726.04,1043.58 L727.98,1042.96 L729.93,1042.33 L731.87,1041.70 L733.82,1041.08 L735.76,1040.46 L737.71,1039.84 L739.65,1039.23 L741.59,1038.62 L743.54,1038.02 L745.48,1037.42 L747.43,1036.83 L749.37,1036.24 L751.32,1035.67 L753.26,1035.10 L755.21,1034.55 L757.15,1034.00 L759.09,1033.46 L761.04,1032.94 L762.98,1032.43 L764.93,1031.94 L766.87,1031.45 L768.82,1030.99 L770.76,1030.54 L772.71,1030.10 L774.65,1029.69 L776.59,1029.29 L778.54,1028.91 L780.48,1028.56 L782.43,1028.22 L784.37,1027.90 L786.32,1027.61 L788.26,1027.34 L790.21,1027.09 L792.15,1026.87 L794.09,1026.68 L796.04,1026.50 L797.98,1026.36 L799.93,1026.24 L801.87,1026.15 L803.82,1026.09 L805.76,1026.06 L807.71,1026.05 L809.65,1026.08 L811.60,1026.13 L813.54,1026.22 L815.48,1026.33 L817.43,1026.48 L819.37,1026.65 L821.32,1026.86 L823.26,1027.10 L825.21,1027.37 L827.15,1027.67 L829.10,1028.01 L831.04,1028.37 L832.98,1028.77 L834.93,1029.19 L836.87,1029.65 L838.82,1030.14 L840.76,1030.65 L842.71,1031.20 L844.65,1031.78 L846.60,1032.38 L848.54,1033.02 L850.48,1033.68 L852.43,1034.37 L854.37,1035.08 L856.32,1035.83 L858.26,1036.59 L860.21,1037.39 L862.15,1038.20 L864.10,1039.04 L866.04,1039.91 L867.99,1040.79 L869.93,1041.70 L871.87,1042.63 L873.82,1043.57 L875.76,1044.54 L877.71,1045.52 L879.65,1046.52 L881.60,1047.54 L883.54,1048.58 L885.49,1049.63 L887.43,1050.69 L889.37,1051.77 L891.32,1052.86 L893.26,1053.96 L895.21,1055.07 L897.15,1056.20 L899.10,1057.33 L901.04,1058.47 L902.99,1059.62 L904.93,1060.78 L906.87,1061.94 L908.82,1063.11 L910.76,1064.28 L912.71,1065.46 L914.65,1066.64 L916.60,1067.83 L918.54,1069.02 L920.49,1070.21 L922.43,1071.40 L924.38,1072.59 L926.32,1073.78 L928.26,1074.97 L930.21,1076.16 L932.15,1077.35 L934.10,1078.53 L936.04,1079.71 L937.99,1080.89 L939.93,1082.07 L941.88,1083.24 L943.82,1084.40 L945.76,1085.56 L947.71,1086.71 L949.65,1087.86 L951.60,1089.00 L953.54,1090.14 L955.49,1091.26 L957.43,1092.38 L959.38,1093.49 L961.32,1094.59 L963.26,1095.69 L965.21,1096.77 L967.15,1097.85 L969.10,1098.91 L971.04,1099.97 L972.99,1101.01 L974.93,1102.05 L976.88,1103.08 L978.82,1104.09 L980.77,1105.09 L982.71,1106.09 L984.65,1107.07 L986.60,1108.04 L988.54,1109.00 L990.49,1109.95 L992.43,1110.88 L994.38,1111.81 L996.32,1112.72 L998.27,1113.62 L1000.21,1114.51 L1002.15,1115.39 L1004.10,1116.26 L1006.04,1117.11 L1007.99,1117.96 L1009.93,1118.79 L1011.88,1119.61 L1013.82,1120.42 L1015.77,1121.21 L1017.71,1122.00 L1019.65,1122.77 L1021.60,1123.54 L1023.54,1124.29 L1025.49,1125.03 L1027.43,1125.76 L1029.38,1126.47 L1031.32,1127.18 L1033.27,1127.88 L1035.21,1128.57 L1037.16,1129.24 L1039.10,1129.91 L1041.04,1130.56 L1042.99,1131.21 L1044.93,1131.84 L1046.88,1132.47 L1048.82,1133.09 L1050.77,1133.69 L1052.71,1134.29 L1054.66,1134.88 L1056.60,1135.46" fill="none" stroke="#ff00ff" stroke-width="3.5" stroke-linejoin="round" stroke-linecap="round"/>
<path d="M475.20,1061.00 L477.14,1061.28 L479.09,1061.56 L481.03,1061.85 L482.98,1062.13 L484.92,1062.41 L486.87,1062.69 L488.81,1062.97 L490.76,1063.26 L492.70,1063.54 L494.64,1063.82 L496.59,1064.10 L498.53,1064.38 L500.48,1064.67 L502.42,1064.95 L504.37,1065.23 L506.31,1065.51 L508.26,1065.79 L510.20,1066.07 L512.15,1066.36 L514.09,1066.64 L516.03,1066.92 L517.98,1067.20 L519.92,1067.48 L521.87,1067.77 L523.81,1068.05 L525.76,1068.33 L527.70,1068.61 L529.65,1068.89 L531.59,1069.18 L533.53,1069.46 L535.48,1069.74 L537.42,1070.02 L539.37,1070.30 L541.31,1070.59 L543.26,1070.87 L545.20,1071.15 L547.15,1071.43 L549.09,1071.71 L551.03,1072.00 L552.98,1072.28 L554.92,1072.56 L556.87,1072.84 L558.81,1073.12 L560.76,1073.41 L562.70,1073.69 L564.65,1073.97 L566.59,1074.25 L568.54,1074.53 L570.48,1074.82 L572.42,1075.10 L574.37,1075.38 L576.31,1075.66 L578.26,1075.94 L580.20,1076.22 L582.15,1076.51 L584.09,1076.79 L586.04,1077.07 L587.98,1077.35 L589.92,1077.63 L591.87,1077.92 L593.81,1078.20 L595.76,1078.48 L597.70,1078.76 L599.65,1079.04 L601.59,1079.33 L603.54,1079.61 L605.48,1079.89 L607.42,1080.17 L609.37,1080.45 L611.31,1080.74 L613.26,1081.02 L615.20,1081.30 L617.15,1081.58 L619.09,1081.86 L621.04,1082.15 L622.98,1082.43 L624.93,1082.71 L626.87,1082.99 L628.81,1083.27 L630.76,1083.56 L632.70,1083.84 L634.65,1084.12 L636.59,1084.40 L638.54,1084.68 L640.48,1084.96 L642.43,1085.25 L644.37,1085.53 L646.31,1085.81 L648.26,1086.09 L650.20,1086.37 L652.15,1086.66 L654.09,1086.94 L656.04,1087.22 L657.98,1087.50 L659.93,1087.78 L661.87,1088.07 L663.81,1088.35 L665.76,1088.63 L667.70,1088.91 L669.65,1089.19 L671.59,1089.48 L673.54,1089.76 L675.48,1090.04 L677.43,1090.32 L679.37,1090.60 L681.32,1090.89 L683.26,1091.17 L685.20,1091.45 L687.15,1091.73 L689.09,1092.01 L691.04,1092.30 L692.98,1092.58 L694.93,1092.86 L696.87,1093.14 L698.82,1093.42 L700.76,1093.71 L702.70,1093.99 L704.65,1094.27 L706.59,1094.55 L708.54,1094.83 L710.48,1095.11 L712.43,1095.40 L714.37,1095.68 L716.32,1095.96 L718.26,1096.24 L720.20,1096.52 L722.15,1096.81 L724.09,1097.09 L726.04,1097.37 L727.98,1097.65 L729.93,1097.93 L731.87,1098.22 L733.82,1098.50 L735.76,1098.78 L737.71,1099.06 L739.65,1099.34 L741.59,1099.63 L743.54,1099.91 L745.48,1100.19 L747.43,1100.47 L749.37,1100.75 L751.32,1101.04 L753.26,1101.32 L755.21,1101.60 L757.15,1101.88 L759.09,1102.16 L761.04,1102.45 L762.98,1102.73 L764.93,1103.01 L766.87,1103.29 L768.82,1103.57 L770.76,1103.85 L772.71,1104.14 L774.65,1104.42 L776.59,1104.70 L778.54,1104.98 L780.48,1105.26 L782.43,1105.55 L784.37,1105.83 L786.32,1106.11 L788.26,1106.39 L790.21,1106.67 L792.15,1106.96 L794.09,1107.24 L796.04,1107.52 L797.98,1107.80 L799.93,1108.08 L801.87,1108.37 L803.82,1108.65 L805.76,1108.93 L807.71,1109.21 L809.65,1109.49 L811.60,1109.78 L813.54,1110.06 L815.48,1110.34 L817.43,1110.62 L819.37,1110.90 L821.32,1111.19 L823.26,1111.47 L825.21,1111.75 L827.15,1112.03 L829.10,1112.31 L831.04,1112.59 L832.98,1112.88 L834.93,1113.16 L836.87,1113.44 L838.82,1113.72 L840.76,1114.00 L842.71,1114.29 L844.65,1114.57 L846.60,1114.85 L848.54,1115.13 L850.48,1115.41 L852.43,1115.70 L854.37,1115.98 L856.32,1116.26 L858.26,1116.54 L860.21,1116.82 L862.15,1117.11 L864.10,1117.39 L866.04,1117.67 L867.99,1117.95 L869.93,1118.23 L871.87,1118.52 L873.82,1118.80 L875.76,1119.08 L877.71,1119.36 L879.65,1119.64 L881.60,1119.93 L883.54,1120.21 L885.49,1120.49 L887.43,1120.77 L889.37,1121.05 L891.32,1121.34 L893.26,1121.62 L895.21,1121.90 L897.15,1122.18 L899.10,1122.46 L901.04,1122.74 L902.99,1123.03 L904.93,1123.31 L906.87,1123.59 L908.82,1123.87 L910.76,1124.15 L912.71,1124.44 L914.65,1124.72 L916.60,1125.00 L918.54,1125.28 L920.49,1125.56 L922.43,1125.85 L924.38,1126.13 L926.32,1126.41 L928.26,1126.69 L930.21,1126.97 L932.15,1127.26 L934.10,1127.54 L936.04,1127.82 L937.99,1128.10 L939.93,1128.38 L941.88,1128.67 L943.82,1128.95 L945.76,1129.23 L947.71,1129.51 L949.65,1129.79 L951.60,1130.08 L953.54,1130.36 L955.49,1130.64 L957.43,1130.92 L959.38,1131.20 L961.32,1131.48 L963.26,1131.77 L965.21,1132.05 L967.15,1132.33 L969.10,1132.61 L971.04,1132.89 L972.99,1133.18 L974.93,1133.46 L976.88,1133.74 L978.82,1134.02 L980.77,1134.30 L982.71,1134.59 L984.65,1134.87 L986.60,1135.15 L988.54,1135.43 L990.49,1135.71 L992.43,1136.00 L994.38,1136.28 L996.32,1136.56 L998.27,1136.84 L1000.21,1137.12 L1002.15,1137.41 L1004.10,1137.69 L1006.04,1137.97 L1007.99,1138.25 L1009.93,1138.53 L1011.88,1138.82 L1013.82,1139.10 L1015.77,1139.38 L1017.71,1139.66 L1019.65,1139.94 L1021.60,1140.23 L1023.54,1140.51 L1025.49,1140.79 L1027.43,1141.07 L1029.38,1141.35 L1031.32,1141.63 L1033.27,1141.92 L1035.21,1142.20 L1037.16,1142.48 L1039.10,1142.76 L1041.04,1143.04 L1042.99,1143.33 L1044.93,1143.61 L1046.88,1143.89 L1048.82,1144.17 L1050.77,1144.45 L1052.71,1144.74 L1054.66,1145.02 L1056.60,1145.30" fill="none" stroke="#0000ff" stroke-width="3.5" stroke-linejoin="round" stroke-linecap="round"/>
<line x1="554.10" y1="834.60" x2="598.00" y2="836.10" stroke="#000" stroke-width="1.5" />
<path d="M611.8,836.4 L597.2,832.6 L597.2,839.8 Z" fill="#000"/>
<line x1="930.80" y1="1028.60" x2="842.00" y2="1028.40" stroke="#000" stroke-width="1.5" />
<path d="M828.9,1028.3 L843.1,1024.5 L843.1,1032.1 Z" fill="#000"/>
</svg></body></html>
